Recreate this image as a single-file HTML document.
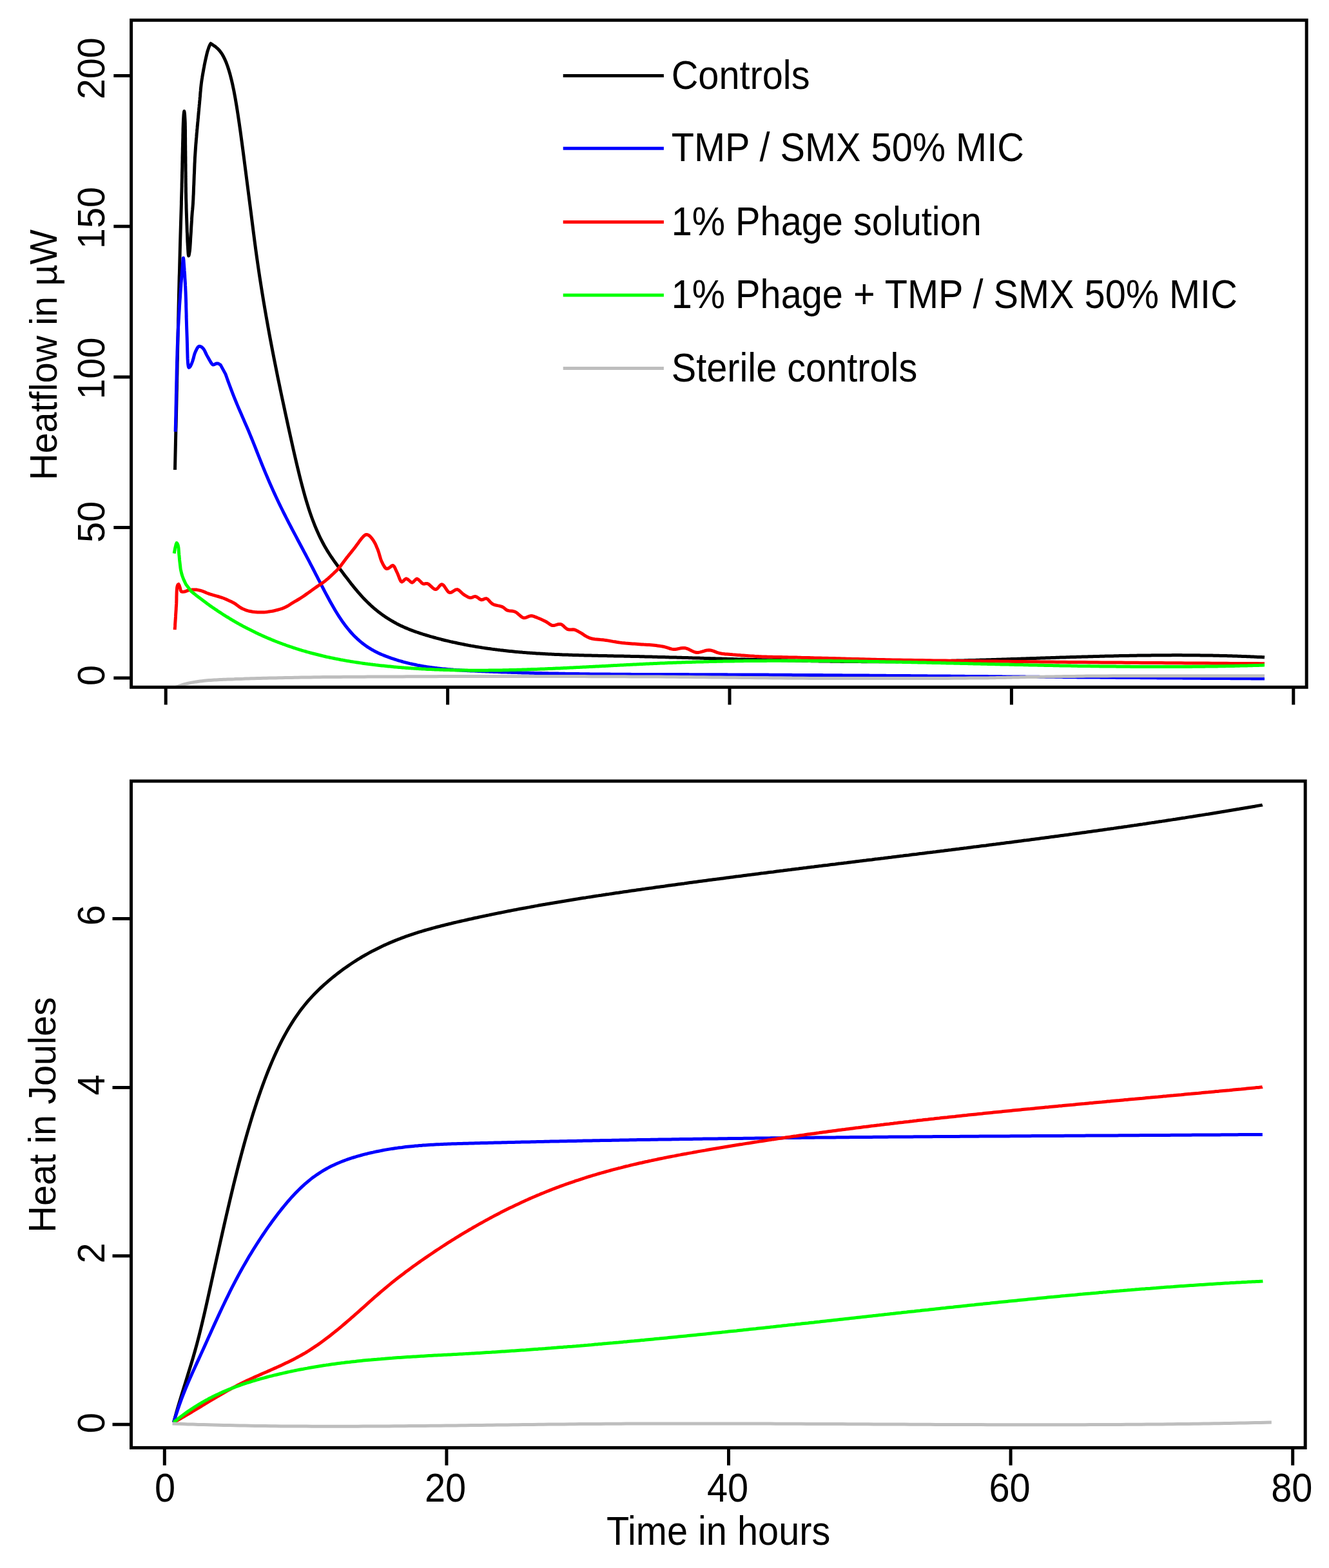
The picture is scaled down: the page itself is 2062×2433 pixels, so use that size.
<!DOCTYPE html><html><head><meta charset="utf-8"><style>html,body{margin:0;padding:0;background:#fff;}svg{display:block;}text{font-family:"Liberation Sans",Arial,Helvetica,sans-serif;font-size:57.70px;fill:#000;}</style></head><body>
<svg xmlns="http://www.w3.org/2000/svg" width="2062" height="2433" viewBox="0 0 2062 2433">
<rect width="2062" height="2433" fill="#fff"/>
<defs><clipPath id="c1"><rect x="206" y="33.8" width="1818.7" height="1030"/></clipPath></defs>
<g clip-path="url(#c1)">
<polyline points="271.5,729.0 271.6,724.5 271.7,720.0 271.8,715.5 271.9,711.0 272.0,706.5 272.1,702.1 272.2,697.6 272.3,693.2 272.4,688.7 272.5,684.3 272.6,679.8 272.7,675.4 272.8,670.9 272.9,666.4 273.1,661.9 273.2,657.3 273.3,652.8 273.4,648.2 273.5,643.6 273.6,639.0 273.7,634.3 273.8,629.6 273.9,624.8 274.0,620.0 274.1,614.5 274.2,608.9 274.4,603.2 274.5,597.4 274.6,591.6 274.7,585.7 274.9,579.7 275.0,573.8 275.1,567.7 275.2,561.7 275.4,555.7 275.5,549.6 275.6,543.6 275.7,537.6 275.9,531.5 276.0,525.6 276.1,519.6 276.2,513.8 276.4,507.9 276.5,502.2 276.6,496.5 276.8,490.9 276.9,485.4 277.0,480.0 277.1,475.5 277.2,471.0 277.3,466.6 277.4,462.2 277.5,457.9 277.6,453.6 277.7,449.3 277.8,445.0 277.9,440.8 278.0,436.6 278.1,432.4 278.2,428.3 278.4,424.1 278.5,420.0 278.6,415.9 278.7,411.9 278.8,407.8 278.9,403.8 279.0,399.8 279.1,395.8 279.2,391.9 279.3,387.9 279.4,383.9 279.5,380.0 279.6,376.5 279.7,373.0 279.8,369.6 279.9,366.2 280.0,362.8 280.1,359.4 280.2,356.0 280.3,352.7 280.4,349.3 280.5,346.0 280.6,342.7 280.7,339.4 280.8,336.2 280.9,332.9 281.0,329.6 281.1,326.3 281.2,323.1 281.3,319.8 281.4,316.5 281.4,313.2 281.5,309.9 281.6,306.6 281.7,303.3 281.8,300.0 281.9,296.6 282.0,293.2 282.1,289.8 282.1,286.3 282.2,282.8 282.3,279.2 282.4,275.7 282.4,272.1 282.5,268.6 282.6,265.0 282.7,261.5 282.8,258.0 282.8,254.5 282.9,251.0 283.0,247.6 283.0,244.3 283.1,240.9 283.2,237.7 283.3,234.5 283.3,231.4 283.4,228.4 283.5,225.5 283.5,222.7 283.6,220.0 283.7,216.5 283.8,213.1 283.8,209.8 283.9,206.6 284.0,203.5 284.0,200.5 284.1,197.6 284.2,194.8 284.3,192.2 284.4,189.6 284.5,187.3 284.6,185.0 284.8,181.7 285.0,178.3 285.3,175.4 285.6,173.3 285.8,172.5 286.0,173.3 286.3,175.3 286.6,178.2 286.8,181.6 287.0,185.0 287.1,187.0 287.2,189.2 287.3,191.6 287.3,194.1 287.4,196.7 287.4,199.4 287.5,202.2 287.5,205.1 287.5,208.1 287.5,211.2 287.6,214.3 287.6,217.4 287.6,220.6 287.6,223.7 287.7,226.9 287.7,230.0 287.7,232.6 287.8,235.3 287.8,238.1 287.8,240.9 287.9,243.8 287.9,246.7 287.9,249.6 287.9,252.6 288.0,255.6 288.0,258.7 288.0,261.7 288.0,264.8 288.1,267.8 288.1,270.9 288.1,273.9 288.2,277.0 288.2,280.0 288.2,283.0 288.3,285.9 288.3,288.8 288.4,291.7 288.4,294.5 288.4,297.3 288.5,300.0 288.6,303.2 288.6,306.3 288.7,309.4 288.8,312.5 288.9,315.6 289.0,318.6 289.0,321.6 289.1,324.6 289.2,327.6 289.3,330.5 289.4,333.3 289.5,336.2 289.6,339.0 289.7,341.8 289.8,344.6 289.9,347.3 290.0,350.0 290.1,353.2 290.2,356.4 290.3,359.6 290.5,362.8 290.6,366.0 290.7,369.0 290.8,372.0 290.9,374.9 291.1,377.7 291.2,380.3 291.4,382.7 291.5,385.0 291.7,388.2 291.9,391.4 292.1,394.2 292.4,396.2 292.7,397.0 293.2,395.9 293.7,393.2 294.2,390.0 294.5,387.9 294.7,385.5 294.9,382.9 295.1,380.1 295.3,377.2 295.5,374.1 295.6,371.1 295.8,368.0 296.0,365.0 296.2,362.2 296.4,359.3 296.5,356.3 296.7,353.3 296.9,350.2 297.1,347.1 297.3,344.1 297.5,341.2 297.6,338.3 297.8,335.6 298.0,333.0 298.2,330.2 298.4,327.7 298.7,325.2 298.9,322.9 299.1,320.4 299.3,317.8 299.5,315.0 299.6,312.5 299.8,309.8 299.9,307.1 300.0,304.2 300.2,301.3 300.3,298.3 300.4,295.3 300.5,292.2 300.6,289.1 300.8,286.0 300.9,283.0 301.0,280.0 301.1,277.2 301.2,274.3 301.3,271.4 301.5,268.5 301.6,265.5 301.7,262.6 301.8,259.7 301.9,256.8 302.0,253.9 302.2,251.0 302.3,248.1 302.4,245.3 302.6,242.5 302.8,239.5 303.0,236.4 303.2,233.4 303.4,230.5 303.6,227.5 303.8,224.6 304.1,221.6 304.3,218.7 304.5,215.8 304.8,212.9 305.0,210.0 305.2,207.2 305.5,204.4 305.7,201.7 306.0,198.9 306.2,196.1 306.5,193.4 306.7,190.7 307.0,188.0 307.2,185.3 307.5,182.6 307.7,180.0 308.0,177.1 308.2,174.3 308.5,171.5 308.7,168.7 309.0,166.0 309.2,163.2 309.5,160.5 309.7,157.8 310.0,155.0 310.2,152.2 310.5,149.4 310.7,146.6 310.9,143.7 311.2,140.9 311.4,138.1 311.7,135.4 312.0,132.7 312.3,130.0 312.7,127.0 313.1,124.1 313.6,121.2 314.0,118.4 314.5,115.5 315.0,112.8 315.5,110.0 316.0,107.0 316.6,104.0 317.1,101.1 317.7,98.2 318.3,95.3 318.9,92.5 319.6,89.4 320.3,86.4 321.0,83.4 321.7,80.6 322.5,78.0 323.5,75.0 324.5,72.2 325.5,70.0 326.3,68.6 327.0,67.5 329.0,68.8 331.0,70.2 333.0,71.6 335.0,73.1 337.0,74.8 339.0,76.8 341.0,79.0 343.0,81.7 345.0,84.7 347.0,88.3 349.0,92.4 351.0,97.1 353.0,102.5 355.0,108.6 357.0,115.5 359.0,123.3 361.0,131.9 363.0,141.6 365.0,152.3 367.0,164.0 369.0,176.6 371.0,190.1 373.0,204.2 375.0,218.8 377.0,233.9 379.0,249.2 381.0,264.8 383.0,280.3 385.0,295.8 387.0,311.2 389.0,326.8 391.0,342.6 393.0,358.4 395.0,373.9 397.0,388.8 399.0,403.2 401.0,417.0 403.0,430.3 405.0,443.2 407.0,455.6 409.0,467.8 411.0,479.6 413.0,491.1 415.0,502.3 417.0,513.4 419.0,524.2 421.0,534.8 423.0,545.3 425.0,555.5 427.0,565.6 429.0,575.6 431.0,585.4 433.0,595.1 435.0,604.7 437.0,614.2 439.0,623.6 441.0,632.9 443.0,642.2 445.0,651.4 447.0,660.6 449.0,669.8 451.0,678.8 453.0,687.8 455.0,696.7 457.0,705.5 459.0,714.1 461.0,722.6 463.0,730.9 465.0,739.1 467.0,747.0 469.0,754.7 471.0,762.1 473.0,769.3 475.0,776.2 477.0,782.8 479.0,789.2 481.0,795.2 483.0,801.0 485.0,806.5 487.0,811.7 489.0,816.8 491.0,821.5 493.0,826.1 495.0,830.5 497.0,834.7 499.0,838.7 501.0,842.5 503.0,846.2 505.0,849.7 507.0,853.1 509.0,856.3 511.0,859.5 513.0,862.6 515.0,865.5 517.0,868.4 519.0,871.3 521.0,874.0 523.0,876.8 525.0,879.5 527.0,882.2 529.0,884.9 531.0,887.5 533.0,890.2 535.0,892.9 537.0,895.5 539.0,898.1 541.0,900.7 543.0,903.3 545.0,905.9 547.0,908.4 549.0,910.9 551.0,913.3 553.0,915.7 555.0,918.1 557.0,920.4 559.0,922.7 561.0,924.9 563.0,927.1 565.0,929.2 567.0,931.3 569.0,933.3 571.0,935.2 573.0,937.1 575.0,939.0 577.0,940.8 579.0,942.6 581.0,944.3 583.0,946.0 585.0,947.6 587.0,949.2 589.0,950.7 591.0,952.3 593.0,953.7 595.0,955.1 597.0,956.5 599.0,957.9 601.0,959.2 603.0,960.4 605.0,961.7 607.0,962.9 609.0,964.0 611.0,965.2 613.0,966.3 615.0,967.4 617.0,968.4 619.0,969.4 621.0,970.4 623.0,971.4 625.0,972.3 627.0,973.2 629.0,974.1 631.0,974.9 633.0,975.8 635.0,976.6 637.0,977.4 639.0,978.1 641.0,978.9 643.0,979.6 645.0,980.3 647.0,981.0 649.0,981.7 651.0,982.4 653.0,983.0 655.0,983.7 657.0,984.3 659.0,984.9 661.0,985.5 663.0,986.1 665.0,986.7 667.0,987.3 669.0,987.9 671.0,988.4 673.0,989.0 675.0,989.5 677.0,990.1 679.0,990.6 681.0,991.1 683.0,991.6 685.0,992.2 687.0,992.7 689.0,993.2 691.0,993.7 693.0,994.1 695.0,994.6 697.0,995.1 699.0,995.6 701.0,996.0 703.0,996.5 705.0,996.9 707.0,997.3 709.0,997.8 711.0,998.2 713.0,998.6 715.0,999.0 717.0,999.4 719.0,999.8 721.0,1000.2 723.0,1000.6 725.0,1001.0 727.0,1001.4 729.0,1001.7 731.0,1002.1 733.0,1002.4 735.0,1002.8 737.0,1003.1 739.0,1003.5 741.0,1003.8 743.0,1004.1 745.0,1004.4 747.0,1004.8 749.0,1005.1 751.0,1005.4 753.0,1005.7 755.0,1006.0 757.0,1006.3 759.0,1006.5 761.0,1006.8 763.0,1007.1 765.0,1007.4 767.0,1007.6 769.0,1007.9 771.0,1008.1 773.0,1008.4 775.0,1008.6 777.0,1008.9 779.0,1009.1 781.0,1009.3 783.0,1009.6 785.0,1009.8 787.0,1010.0 789.0,1010.2 791.0,1010.4 793.0,1010.6 795.0,1010.8 797.0,1011.0 799.0,1011.2 801.0,1011.4 803.0,1011.6 805.0,1011.7 807.0,1011.9 809.0,1012.1 811.0,1012.3 813.0,1012.4 815.0,1012.6 817.0,1012.7 819.0,1012.9 821.0,1013.0 823.0,1013.2 825.0,1013.3 827.0,1013.5 829.0,1013.6 831.0,1013.7 833.0,1013.9 835.0,1014.0 837.0,1014.1 839.0,1014.2 841.0,1014.3 843.0,1014.5 845.0,1014.6 847.0,1014.7 849.0,1014.8 851.0,1014.9 853.0,1015.0 855.0,1015.1 857.0,1015.2 859.0,1015.3 861.0,1015.4 863.0,1015.5 865.0,1015.5 867.0,1015.6 869.0,1015.7 871.0,1015.8 873.0,1015.9 875.0,1015.9 877.0,1016.0 879.0,1016.1 881.0,1016.1 883.0,1016.2 885.0,1016.3 887.0,1016.3 889.0,1016.4 891.0,1016.5 893.0,1016.5 895.0,1016.6 897.0,1016.6 899.0,1016.7 901.0,1016.7 903.0,1016.8 905.0,1016.8 907.0,1016.9 909.0,1016.9 911.0,1017.0 913.0,1017.0 915.0,1017.1 917.0,1017.1 919.0,1017.2 921.0,1017.2 923.0,1017.3 925.0,1017.3 927.0,1017.3 929.0,1017.4 931.0,1017.4 933.0,1017.5 935.0,1017.5 937.0,1017.5 939.0,1017.6 941.0,1017.6 943.0,1017.7 945.0,1017.7 947.0,1017.7 949.0,1017.8 951.0,1017.8 953.0,1017.9 955.0,1017.9 957.0,1017.9 959.0,1018.0 961.0,1018.0 963.0,1018.0 965.0,1018.1 967.0,1018.1 969.0,1018.2 971.0,1018.2 973.0,1018.3 975.0,1018.3 977.0,1018.3 979.0,1018.4 981.0,1018.4 983.0,1018.5 985.0,1018.5 987.0,1018.6 989.0,1018.6 991.0,1018.6 993.0,1018.7 995.0,1018.7 997.0,1018.8 999.0,1018.8 1001.0,1018.9 1003.0,1018.9 1005.0,1019.0 1007.0,1019.0 1009.0,1019.1 1011.0,1019.1 1013.0,1019.2 1015.0,1019.2 1017.0,1019.3 1019.0,1019.3 1021.0,1019.4 1023.0,1019.4 1025.0,1019.5 1027.0,1019.5 1029.0,1019.6 1031.0,1019.6 1033.0,1019.7 1035.0,1019.7 1037.0,1019.8 1039.0,1019.9 1041.0,1019.9 1043.0,1020.0 1045.0,1020.0 1047.0,1020.1 1049.0,1020.1 1051.0,1020.2 1053.0,1020.2 1055.0,1020.3 1057.0,1020.3 1059.0,1020.4 1061.0,1020.5 1063.0,1020.5 1065.0,1020.6 1067.0,1020.6 1069.0,1020.7 1071.0,1020.7 1073.0,1020.8 1075.0,1020.9 1077.0,1020.9 1079.0,1021.0 1081.0,1021.0 1083.0,1021.1 1085.0,1021.1 1087.0,1021.2 1089.0,1021.3 1091.0,1021.3 1093.0,1021.4 1095.0,1021.4 1097.0,1021.5 1099.0,1021.5 1101.0,1021.6 1103.0,1021.7 1105.0,1021.7 1107.0,1021.8 1109.0,1021.8 1111.0,1021.9 1113.0,1021.9 1115.0,1022.0 1117.0,1022.1 1119.0,1022.1 1121.0,1022.2 1123.0,1022.2 1125.0,1022.3 1127.0,1022.3 1129.0,1022.4 1131.0,1022.5 1133.0,1022.5 1135.0,1022.6 1137.0,1022.6 1139.0,1022.7 1141.0,1022.7 1143.0,1022.8 1145.0,1022.9 1147.0,1022.9 1149.0,1023.0 1151.0,1023.0 1153.0,1023.1 1155.0,1023.1 1157.0,1023.2 1159.0,1023.3 1161.0,1023.3 1163.0,1023.4 1165.0,1023.4 1167.0,1023.5 1169.0,1023.5 1171.0,1023.6 1173.0,1023.6 1175.0,1023.7 1177.0,1023.7 1179.0,1023.8 1181.0,1023.8 1183.0,1023.9 1185.0,1024.0 1187.0,1024.0 1189.0,1024.1 1191.0,1024.1 1193.0,1024.2 1195.0,1024.2 1197.0,1024.3 1199.0,1024.3 1201.0,1024.4 1203.0,1024.4 1205.0,1024.5 1207.0,1024.5 1209.0,1024.6 1211.0,1024.6 1213.0,1024.7 1215.0,1024.7 1217.0,1024.8 1219.0,1024.8 1221.0,1024.8 1223.0,1024.9 1225.0,1024.9 1227.0,1025.0 1229.0,1025.0 1231.0,1025.1 1233.0,1025.1 1235.0,1025.2 1237.0,1025.2 1239.0,1025.2 1241.0,1025.3 1243.0,1025.3 1245.0,1025.4 1247.0,1025.4 1249.0,1025.5 1251.0,1025.5 1253.0,1025.5 1255.0,1025.6 1257.0,1025.6 1259.0,1025.7 1261.0,1025.7 1263.0,1025.7 1265.0,1025.8 1267.0,1025.8 1269.0,1025.8 1271.0,1025.9 1273.0,1025.9 1275.0,1025.9 1277.0,1026.0 1279.0,1026.0 1281.0,1026.0 1283.0,1026.1 1285.0,1026.1 1287.0,1026.1 1289.0,1026.2 1291.0,1026.2 1293.0,1026.2 1295.0,1026.2 1297.0,1026.3 1299.0,1026.3 1301.0,1026.3 1303.0,1026.3 1305.0,1026.4 1307.0,1026.4 1309.0,1026.4 1311.0,1026.4 1313.0,1026.5 1315.0,1026.5 1317.0,1026.5 1319.0,1026.5 1321.0,1026.5 1323.0,1026.6 1325.0,1026.6 1327.0,1026.6 1329.0,1026.6 1331.0,1026.6 1333.0,1026.6 1335.0,1026.6 1337.0,1026.7 1339.0,1026.7 1341.0,1026.7 1343.0,1026.7 1345.0,1026.7 1347.0,1026.7 1349.0,1026.7 1351.0,1026.7 1353.0,1026.7 1355.0,1026.7 1357.0,1026.7 1359.0,1026.7 1361.0,1026.7 1363.0,1026.7 1365.0,1026.7 1367.0,1026.7 1369.0,1026.7 1371.0,1026.7 1373.0,1026.7 1375.0,1026.7 1377.0,1026.7 1379.0,1026.7 1381.0,1026.7 1383.0,1026.7 1385.0,1026.7 1387.0,1026.7 1389.0,1026.7 1391.0,1026.7 1393.0,1026.7 1395.0,1026.6 1397.0,1026.6 1399.0,1026.6 1401.0,1026.6 1403.0,1026.6 1405.0,1026.6 1407.0,1026.5 1409.0,1026.5 1411.0,1026.5 1413.0,1026.5 1415.0,1026.5 1417.0,1026.4 1419.0,1026.4 1421.0,1026.4 1423.0,1026.4 1425.0,1026.3 1427.0,1026.3 1429.0,1026.3 1431.0,1026.2 1433.0,1026.2 1435.0,1026.2 1437.0,1026.1 1439.0,1026.1 1441.0,1026.1 1443.0,1026.0 1445.0,1026.0 1447.0,1026.0 1449.0,1025.9 1451.0,1025.9 1453.0,1025.8 1455.0,1025.8 1457.0,1025.8 1459.0,1025.7 1461.0,1025.7 1463.0,1025.6 1465.0,1025.6 1467.0,1025.5 1469.0,1025.5 1471.0,1025.5 1473.0,1025.4 1475.0,1025.4 1477.0,1025.3 1479.0,1025.3 1481.0,1025.2 1483.0,1025.2 1485.0,1025.1 1487.0,1025.1 1489.0,1025.0 1491.0,1025.0 1493.0,1024.9 1495.0,1024.9 1497.0,1024.8 1499.0,1024.8 1501.0,1024.7 1503.0,1024.6 1505.0,1024.6 1507.0,1024.5 1509.0,1024.5 1511.0,1024.4 1513.0,1024.4 1515.0,1024.3 1517.0,1024.3 1519.0,1024.2 1521.0,1024.1 1523.0,1024.1 1525.0,1024.0 1527.0,1024.0 1529.0,1023.9 1531.0,1023.8 1533.0,1023.8 1535.0,1023.7 1537.0,1023.7 1539.0,1023.6 1541.0,1023.5 1543.0,1023.5 1545.0,1023.4 1547.0,1023.3 1549.0,1023.3 1551.0,1023.2 1553.0,1023.2 1555.0,1023.1 1557.0,1023.0 1559.0,1023.0 1561.0,1022.9 1563.0,1022.8 1565.0,1022.8 1567.0,1022.7 1569.0,1022.6 1571.0,1022.6 1573.0,1022.5 1575.0,1022.4 1577.0,1022.4 1579.0,1022.3 1581.0,1022.2 1583.0,1022.2 1585.0,1022.1 1587.0,1022.0 1589.0,1022.0 1591.0,1021.9 1593.0,1021.8 1595.0,1021.8 1597.0,1021.7 1599.0,1021.6 1601.0,1021.6 1603.0,1021.5 1605.0,1021.4 1607.0,1021.4 1609.0,1021.3 1611.0,1021.2 1613.0,1021.2 1615.0,1021.1 1617.0,1021.0 1619.0,1021.0 1621.0,1020.9 1623.0,1020.8 1625.0,1020.8 1627.0,1020.7 1629.0,1020.7 1631.0,1020.6 1633.0,1020.5 1635.0,1020.5 1637.0,1020.4 1639.0,1020.3 1641.0,1020.3 1643.0,1020.2 1645.0,1020.1 1647.0,1020.1 1649.0,1020.0 1651.0,1019.9 1653.0,1019.9 1655.0,1019.8 1657.0,1019.8 1659.0,1019.7 1661.0,1019.6 1663.0,1019.6 1665.0,1019.5 1667.0,1019.5 1669.0,1019.4 1671.0,1019.3 1673.0,1019.3 1675.0,1019.2 1677.0,1019.2 1679.0,1019.1 1681.0,1019.0 1683.0,1019.0 1685.0,1018.9 1687.0,1018.9 1689.0,1018.8 1691.0,1018.8 1693.0,1018.7 1695.0,1018.7 1697.0,1018.6 1699.0,1018.5 1701.0,1018.5 1703.0,1018.4 1705.0,1018.4 1707.0,1018.3 1709.0,1018.3 1711.0,1018.2 1713.0,1018.2 1715.0,1018.1 1717.0,1018.1 1719.0,1018.0 1721.0,1018.0 1723.0,1017.9 1725.0,1017.9 1727.0,1017.9 1729.0,1017.8 1731.0,1017.8 1733.0,1017.7 1735.0,1017.7 1737.0,1017.6 1739.0,1017.6 1741.0,1017.6 1743.0,1017.5 1745.0,1017.5 1747.0,1017.4 1749.0,1017.4 1751.0,1017.4 1753.0,1017.3 1755.0,1017.3 1757.0,1017.3 1759.0,1017.2 1761.0,1017.2 1763.0,1017.2 1765.0,1017.1 1767.0,1017.1 1769.0,1017.1 1771.0,1017.0 1773.0,1017.0 1775.0,1017.0 1777.0,1017.0 1779.0,1016.9 1781.0,1016.9 1783.0,1016.9 1785.0,1016.9 1787.0,1016.8 1789.0,1016.8 1791.0,1016.8 1793.0,1016.8 1795.0,1016.8 1797.0,1016.8 1799.0,1016.7 1801.0,1016.7 1803.0,1016.7 1805.0,1016.7 1807.0,1016.7 1809.0,1016.7 1811.0,1016.7 1813.0,1016.7 1815.0,1016.7 1817.0,1016.7 1819.0,1016.6 1821.0,1016.6 1823.0,1016.6 1825.0,1016.6 1827.0,1016.6 1829.0,1016.6 1831.0,1016.6 1833.0,1016.6 1835.0,1016.7 1837.0,1016.7 1839.0,1016.7 1841.0,1016.7 1843.0,1016.7 1845.0,1016.7 1847.0,1016.7 1849.0,1016.7 1851.0,1016.7 1853.0,1016.8 1855.0,1016.8 1857.0,1016.8 1859.0,1016.8 1861.0,1016.8 1863.0,1016.9 1865.0,1016.9 1867.0,1016.9 1869.0,1016.9 1871.0,1017.0 1873.0,1017.0 1875.0,1017.0 1877.0,1017.1 1879.0,1017.1 1881.0,1017.1 1883.0,1017.2 1885.0,1017.2 1887.0,1017.2 1889.0,1017.3 1891.0,1017.3 1893.0,1017.4 1895.0,1017.4 1897.0,1017.5 1899.0,1017.5 1901.0,1017.6 1903.0,1017.6 1905.0,1017.7 1907.0,1017.7 1909.0,1017.8 1911.0,1017.8 1913.0,1017.9 1915.0,1018.0 1917.0,1018.0 1919.0,1018.1 1921.0,1018.2 1923.0,1018.2 1925.0,1018.3 1927.0,1018.4 1929.0,1018.4 1931.0,1018.5 1933.0,1018.6 1935.0,1018.7 1937.0,1018.7 1939.0,1018.8 1941.0,1018.9 1943.0,1019.0 1945.0,1019.1 1947.0,1019.2 1949.0,1019.3 1951.0,1019.4 1953.0,1019.4 1955.0,1019.5 1957.0,1019.6 1959.0,1019.7 1961.0,1019.8 1962.0,1019.9" fill="none" stroke="#000000" stroke-width="5.0" stroke-linejoin="round" stroke-linecap="butt"/>
<polyline points="272.2,669.9 272.3,663.8 272.5,657.6 272.6,651.3 272.8,645.0 272.9,638.7 273.0,632.3 273.2,625.9 273.3,619.5 273.4,613.0 273.6,606.6 273.7,600.2 273.8,593.9 274.0,587.6 274.1,581.3 274.2,575.1 274.4,569.0 274.5,563.0 274.7,557.1 274.9,551.2 275.0,545.5 275.2,540.0 275.4,534.6 275.6,529.3 275.8,524.2 276.0,520.7 276.1,517.2 276.3,513.8 276.4,510.5 276.6,507.1 276.8,503.8 277.0,500.6 277.1,497.4 277.3,494.3 277.5,491.2 277.7,488.1 277.9,485.1 278.1,482.1 278.3,479.2 278.4,476.3 278.6,473.4 278.8,470.6 279.0,467.9 279.2,465.1 279.4,462.4 279.6,459.8 279.7,457.2 279.9,454.6 280.1,452.1 280.3,448.8 280.6,445.5 280.8,442.4 281.0,439.2 281.3,436.2 281.5,433.2 281.7,430.3 282.0,427.5 282.2,424.8 282.4,422.2 282.6,419.7 282.8,417.3 283.0,415.0 283.3,411.1 283.6,407.2 283.9,403.7 284.1,401.2 284.4,400.2 284.7,401.2 285.0,403.7 285.2,407.2 285.5,411.1 285.8,415.0 286.0,417.3 286.1,419.7 286.3,422.2 286.5,424.8 286.7,427.5 286.8,430.3 287.0,433.2 287.2,436.2 287.4,439.2 287.5,442.4 287.7,445.5 287.8,448.8 288.0,452.1 288.1,454.7 288.2,457.3 288.3,460.1 288.4,462.9 288.5,465.8 288.6,468.8 288.7,471.9 288.7,475.0 288.8,478.1 288.9,481.3 289.0,484.5 289.1,487.7 289.1,490.9 289.2,494.1 289.3,497.3 289.4,500.5 289.5,503.6 289.6,506.7 289.7,509.8 289.8,512.8 289.9,515.8 290.0,518.7 290.1,521.5 290.2,524.2 290.3,527.5 290.4,531.1 290.5,534.7 290.6,538.5 290.7,542.3 290.8,546.1 290.9,549.8 291.0,553.4 291.1,556.7 291.3,559.9 291.5,562.7 291.7,565.2 292.0,567.2 292.3,568.8 292.7,569.9 293.1,570.4 294.3,569.7 295.5,568.0 296.6,565.9 297.7,563.2 298.8,560.3 299.5,558.1 300.2,555.7 300.8,553.1 301.5,550.6 302.3,548.1 303.2,545.9 304.5,543.2 305.8,540.5 307.3,538.3 308.9,537.2 310.8,537.4 312.8,538.5 314.7,540.1 316.2,542.0 317.7,544.6 319.0,547.4 320.4,550.4 321.9,553.1 323.3,555.5 324.8,558.2 326.3,560.9 327.8,563.3 329.2,565.2 330.6,566.1 332.6,565.6 334.5,564.5 336.1,564.0 337.8,563.9 339.9,564.8 342.1,566.1 349.9,580.4 351.9,586.0 353.9,591.6 355.9,597.0 357.9,602.4 359.9,607.7 361.9,612.8 363.9,617.9 365.9,622.8 367.9,627.6 369.9,632.4 371.9,637.0 373.9,641.6 375.9,646.2 377.9,650.8 379.9,655.4 381.9,660.0 383.9,664.6 385.9,669.3 387.9,674.1 389.9,679.0 391.9,683.9 393.9,688.9 395.9,693.9 397.9,699.0 399.9,704.1 401.9,709.1 403.9,714.2 405.9,719.2 407.9,724.1 409.9,729.0 411.9,733.9 413.9,738.6 415.9,743.3 417.9,748.0 419.9,752.6 421.9,757.1 423.9,761.5 425.9,765.9 427.9,770.2 429.9,774.5 431.9,778.7 433.9,782.8 435.9,787.0 437.9,791.0 439.9,795.1 441.9,799.0 443.9,803.0 445.9,806.9 447.9,810.8 449.9,814.7 451.9,818.5 453.9,822.3 455.9,826.2 457.9,829.9 459.9,833.7 461.9,837.5 463.9,841.2 465.9,845.0 467.9,848.7 469.9,852.5 471.9,856.3 473.9,860.0 475.9,863.8 477.9,867.6 479.9,871.4 481.9,875.3 483.9,879.1 485.9,883.0 487.9,886.9 489.9,890.8 491.9,894.7 493.9,898.6 495.9,902.4 497.9,906.3 499.9,910.2 501.9,914.0 503.9,917.8 505.9,921.6 507.9,925.3 509.9,929.0 511.9,932.7 513.9,936.3 515.9,939.8 517.9,943.3 519.9,946.7 521.9,950.0 523.9,953.2 525.9,956.4 527.9,959.4 529.9,962.4 531.9,965.3 533.9,968.0 535.9,970.7 537.9,973.3 539.9,975.8 541.9,978.2 543.9,980.5 545.9,982.7 547.9,984.9 549.9,986.9 551.9,988.9 553.9,990.8 555.9,992.6 557.9,994.4 559.9,996.1 561.9,997.7 563.9,999.3 565.9,1000.7 567.9,1002.2 569.9,1003.6 571.9,1004.9 573.9,1006.1 575.9,1007.4 577.9,1008.5 579.9,1009.6 581.9,1010.7 583.9,1011.7 585.9,1012.7 587.9,1013.7 589.9,1014.6 591.9,1015.5 593.9,1016.3 595.9,1017.1 597.9,1017.9 599.9,1018.7 601.9,1019.4 603.9,1020.2 605.9,1020.9 607.9,1021.6 609.9,1022.2 611.9,1022.9 613.9,1023.5 615.9,1024.2 617.9,1024.8 619.9,1025.4 621.9,1025.9 623.9,1026.5 625.9,1027.1 627.9,1027.6 629.9,1028.1 631.9,1028.6 633.9,1029.1 635.9,1029.6 637.9,1030.0 639.9,1030.5 641.9,1030.9 643.9,1031.3 645.9,1031.8 647.9,1032.2 649.9,1032.5 651.9,1032.9 653.9,1033.3 655.9,1033.6 657.9,1034.0 659.9,1034.3 661.9,1034.6 663.9,1034.9 665.9,1035.2 667.9,1035.5 669.9,1035.8 671.9,1036.1 673.9,1036.3 675.9,1036.6 677.9,1036.8 679.9,1037.1 681.9,1037.3 683.9,1037.5 685.9,1037.7 687.9,1037.9 689.9,1038.1 691.9,1038.3 693.9,1038.5 695.9,1038.7 697.9,1038.8 699.9,1039.0 701.9,1039.1 703.9,1039.3 705.9,1039.4 707.9,1039.6 709.9,1039.7 711.9,1039.8 713.9,1040.0 715.9,1040.1 717.9,1040.2 719.9,1040.3 721.9,1040.4 723.9,1040.5 725.9,1040.7 727.9,1040.8 729.9,1040.9 731.9,1041.0 733.9,1041.0 735.9,1041.1 737.9,1041.2 739.9,1041.3 741.9,1041.4 743.9,1041.5 745.9,1041.6 747.9,1041.7 749.9,1041.8 751.9,1041.8 753.9,1041.9 755.9,1042.0 757.9,1042.1 759.9,1042.2 761.9,1042.3 763.9,1042.3 765.9,1042.4 767.9,1042.5 769.9,1042.6 771.9,1042.6 773.9,1042.7 775.9,1042.8 777.9,1042.9 779.9,1042.9 781.9,1043.0 783.9,1043.1 785.9,1043.1 787.9,1043.2 789.9,1043.3 791.9,1043.3 793.9,1043.4 795.9,1043.5 797.9,1043.5 799.9,1043.6 801.9,1043.6 803.9,1043.7 805.9,1043.8 807.9,1043.8 809.9,1043.9 811.9,1043.9 813.9,1044.0 815.9,1044.0 817.9,1044.1 819.9,1044.1 821.9,1044.2 823.9,1044.2 825.9,1044.3 827.9,1044.3 829.9,1044.4 831.9,1044.4 833.9,1044.5 835.9,1044.5 837.9,1044.6 839.9,1044.6 841.9,1044.7 843.9,1044.7 845.9,1044.8 847.9,1044.8 849.9,1044.8 851.9,1044.9 853.9,1044.9 855.9,1045.0 857.9,1045.0 859.9,1045.0 861.9,1045.1 863.9,1045.1 865.9,1045.1 867.9,1045.2 869.9,1045.2 871.9,1045.3 873.9,1045.3 875.9,1045.3 877.9,1045.4 879.9,1045.4 881.9,1045.4 883.9,1045.4 885.9,1045.5 887.9,1045.5 889.9,1045.5 891.9,1045.6 893.9,1045.6 895.9,1045.6 897.9,1045.6 899.9,1045.7 901.9,1045.7 903.9,1045.7 905.9,1045.7 907.9,1045.8 909.9,1045.8 911.9,1045.8 913.9,1045.8 915.9,1045.9 917.9,1045.9 919.9,1045.9 921.9,1045.9 923.9,1045.9 925.9,1046.0 927.9,1046.0 929.9,1046.0 931.9,1046.0 933.9,1046.0 935.9,1046.1 937.9,1046.1 939.9,1046.1 941.9,1046.1 943.9,1046.1 945.9,1046.1 947.9,1046.2 949.9,1046.2 951.9,1046.2 953.9,1046.2 955.9,1046.2 957.9,1046.2 959.9,1046.2 961.9,1046.2 963.9,1046.3 965.9,1046.3 967.9,1046.3 969.9,1046.3 971.9,1046.3 973.9,1046.3 975.9,1046.3 977.9,1046.3 979.9,1046.4 981.9,1046.4 983.9,1046.4 985.9,1046.4 987.9,1046.4 989.9,1046.4 991.9,1046.4 993.9,1046.4 995.9,1046.4 997.9,1046.4 999.9,1046.4 1001.9,1046.4 1003.9,1046.5 1005.9,1046.5 1007.9,1046.5 1009.9,1046.5 1011.9,1046.5 1013.9,1046.5 1015.9,1046.5 1017.9,1046.5 1019.9,1046.5 1021.9,1046.5 1023.9,1046.5 1025.9,1046.5 1027.9,1046.5 1029.9,1046.5 1031.9,1046.5 1033.9,1046.6 1035.9,1046.6 1037.9,1046.6 1039.9,1046.6 1041.9,1046.6 1043.9,1046.6 1045.9,1046.6 1047.9,1046.6 1049.9,1046.6 1051.9,1046.6 1053.9,1046.6 1055.9,1046.6 1057.9,1046.6 1059.9,1046.6 1061.9,1046.6 1063.9,1046.6 1065.9,1046.6 1067.9,1046.6 1069.9,1046.7 1071.9,1046.7 1073.9,1046.7 1075.9,1046.7 1077.9,1046.7 1079.9,1046.7 1081.9,1046.7 1083.9,1046.7 1085.9,1046.7 1087.9,1046.7 1089.9,1046.7 1091.9,1046.7 1093.9,1046.7 1095.9,1046.7 1097.9,1046.7 1099.9,1046.7 1101.9,1046.7 1103.9,1046.8 1105.9,1046.8 1107.9,1046.8 1109.9,1046.8 1111.9,1046.8 1113.9,1046.8 1115.9,1046.8 1117.9,1046.8 1119.9,1046.8 1121.9,1046.8 1123.9,1046.8 1125.9,1046.8 1127.9,1046.8 1129.9,1046.9 1131.9,1046.9 1133.9,1046.9 1135.9,1046.9 1137.9,1046.9 1139.9,1046.9 1141.9,1046.9 1143.9,1046.9 1145.9,1046.9 1147.9,1046.9 1149.9,1046.9 1151.9,1046.9 1153.9,1047.0 1155.9,1047.0 1157.9,1047.0 1159.9,1047.0 1161.9,1047.0 1163.9,1047.0 1165.9,1047.0 1167.9,1047.0 1169.9,1047.0 1171.9,1047.0 1173.9,1047.1 1175.9,1047.1 1177.9,1047.1 1179.9,1047.1 1181.9,1047.1 1183.9,1047.1 1185.9,1047.1 1187.9,1047.1 1189.9,1047.1 1191.9,1047.1 1193.9,1047.2 1195.9,1047.2 1197.9,1047.2 1199.9,1047.2 1201.9,1047.2 1203.9,1047.2 1205.9,1047.2 1207.9,1047.2 1209.9,1047.2 1211.9,1047.2 1213.9,1047.3 1215.9,1047.3 1217.9,1047.3 1219.9,1047.3 1221.9,1047.3 1223.9,1047.3 1225.9,1047.3 1227.9,1047.3 1229.9,1047.4 1231.9,1047.4 1233.9,1047.4 1235.9,1047.4 1237.9,1047.4 1239.9,1047.4 1241.9,1047.4 1243.9,1047.4 1245.9,1047.4 1247.9,1047.5 1249.9,1047.5 1251.9,1047.5 1253.9,1047.5 1255.9,1047.5 1257.9,1047.5 1259.9,1047.5 1261.9,1047.5 1263.9,1047.6 1265.9,1047.6 1267.9,1047.6 1269.9,1047.6 1271.9,1047.6 1273.9,1047.6 1275.9,1047.6 1277.9,1047.7 1279.9,1047.7 1281.9,1047.7 1283.9,1047.7 1285.9,1047.7 1287.9,1047.7 1289.9,1047.7 1291.9,1047.7 1293.9,1047.8 1295.9,1047.8 1297.9,1047.8 1299.9,1047.8 1301.9,1047.8 1303.9,1047.8 1305.9,1047.8 1307.9,1047.9 1309.9,1047.9 1311.9,1047.9 1313.9,1047.9 1315.9,1047.9 1317.9,1047.9 1319.9,1047.9 1321.9,1048.0 1323.9,1048.0 1325.9,1048.0 1327.9,1048.0 1329.9,1048.0 1331.9,1048.0 1333.9,1048.0 1335.9,1048.1 1337.9,1048.1 1339.9,1048.1 1341.9,1048.1 1343.9,1048.1 1345.9,1048.1 1347.9,1048.1 1349.9,1048.2 1351.9,1048.2 1353.9,1048.2 1355.9,1048.2 1357.9,1048.2 1359.9,1048.2 1361.9,1048.2 1363.9,1048.3 1365.9,1048.3 1367.9,1048.3 1369.9,1048.3 1371.9,1048.3 1373.9,1048.3 1375.9,1048.4 1377.9,1048.4 1379.9,1048.4 1381.9,1048.4 1383.9,1048.4 1385.9,1048.4 1387.9,1048.4 1389.9,1048.5 1391.9,1048.5 1393.9,1048.5 1395.9,1048.5 1397.9,1048.5 1399.9,1048.5 1401.9,1048.6 1403.9,1048.6 1405.9,1048.6 1407.9,1048.6 1409.9,1048.6 1411.9,1048.6 1413.9,1048.7 1415.9,1048.7 1417.9,1048.7 1419.9,1048.7 1421.9,1048.7 1423.9,1048.7 1425.9,1048.8 1427.9,1048.8 1429.9,1048.8 1431.9,1048.8 1433.9,1048.8 1435.9,1048.8 1437.9,1048.8 1439.9,1048.9 1441.9,1048.9 1443.9,1048.9 1445.9,1048.9 1447.9,1048.9 1449.9,1048.9 1451.9,1049.0 1453.9,1049.0 1455.9,1049.0 1457.9,1049.0 1459.9,1049.0 1461.9,1049.0 1463.9,1049.1 1465.9,1049.1 1467.9,1049.1 1469.9,1049.1 1471.9,1049.1 1473.9,1049.1 1475.9,1049.2 1477.9,1049.2 1479.9,1049.2 1481.9,1049.2 1483.9,1049.2 1485.9,1049.2 1487.9,1049.3 1489.9,1049.3 1491.9,1049.3 1493.9,1049.3 1495.9,1049.3 1497.9,1049.4 1499.9,1049.4 1501.9,1049.4 1503.9,1049.4 1505.9,1049.4 1507.9,1049.4 1509.9,1049.5 1511.9,1049.5 1513.9,1049.5 1515.9,1049.5 1517.9,1049.5 1519.9,1049.5 1521.9,1049.6 1523.9,1049.6 1525.9,1049.6 1527.9,1049.6 1529.9,1049.6 1531.9,1049.6 1533.9,1049.7 1535.9,1049.7 1537.9,1049.7 1539.9,1049.7 1541.9,1049.7 1543.9,1049.7 1545.9,1049.8 1547.9,1049.8 1549.9,1049.8 1551.9,1049.8 1553.9,1049.8 1555.9,1049.9 1557.9,1049.9 1559.9,1049.9 1561.9,1049.9 1563.9,1049.9 1565.9,1049.9 1567.9,1050.0 1569.9,1050.0 1571.9,1050.0 1573.9,1050.0 1575.9,1050.0 1577.9,1050.0 1579.9,1050.1 1581.9,1050.1 1583.9,1050.1 1585.9,1050.1 1587.9,1050.1 1589.9,1050.1 1591.9,1050.2 1593.9,1050.2 1595.9,1050.2 1597.9,1050.2 1599.9,1050.2 1601.9,1050.2 1603.9,1050.3 1605.9,1050.3 1607.9,1050.3 1609.9,1050.3 1611.9,1050.3 1613.9,1050.4 1615.9,1050.4 1617.9,1050.4 1619.9,1050.4 1621.9,1050.4 1623.9,1050.4 1625.9,1050.5 1627.9,1050.5 1629.9,1050.5 1631.9,1050.5 1633.9,1050.5 1635.9,1050.5 1637.9,1050.6 1639.9,1050.6 1641.9,1050.6 1643.9,1050.6 1645.9,1050.6 1647.9,1050.6 1649.9,1050.7 1651.9,1050.7 1653.9,1050.7 1655.9,1050.7 1657.9,1050.7 1659.9,1050.7 1661.9,1050.8 1663.9,1050.8 1665.9,1050.8 1667.9,1050.8 1669.9,1050.8 1671.9,1050.9 1673.9,1050.9 1675.9,1050.9 1677.9,1050.9 1679.9,1050.9 1681.9,1050.9 1683.9,1051.0 1685.9,1051.0 1687.9,1051.0 1689.9,1051.0 1691.9,1051.0 1693.9,1051.0 1695.9,1051.1 1697.9,1051.1 1699.9,1051.1 1701.9,1051.1 1703.9,1051.1 1705.9,1051.1 1707.9,1051.2 1709.9,1051.2 1711.9,1051.2 1713.9,1051.2 1715.9,1051.2 1717.9,1051.2 1719.9,1051.3 1721.9,1051.3 1723.9,1051.3 1725.9,1051.3 1727.9,1051.3 1729.9,1051.3 1731.9,1051.4 1733.9,1051.4 1735.9,1051.4 1737.9,1051.4 1739.9,1051.4 1741.9,1051.4 1743.9,1051.5 1745.9,1051.5 1747.9,1051.5 1749.9,1051.5 1751.9,1051.5 1753.9,1051.5 1755.9,1051.5 1757.9,1051.6 1759.9,1051.6 1761.9,1051.6 1763.9,1051.6 1765.9,1051.6 1767.9,1051.6 1769.9,1051.7 1771.9,1051.7 1773.9,1051.7 1775.9,1051.7 1777.9,1051.7 1779.9,1051.7 1781.9,1051.8 1783.9,1051.8 1785.9,1051.8 1787.9,1051.8 1789.9,1051.8 1791.9,1051.8 1793.9,1051.8 1795.9,1051.9 1797.9,1051.9 1799.9,1051.9 1801.9,1051.9 1803.9,1051.9 1805.9,1051.9 1807.9,1052.0 1809.9,1052.0 1811.9,1052.0 1813.9,1052.0 1815.9,1052.0 1817.9,1052.0 1819.9,1052.0 1821.9,1052.1 1823.9,1052.1 1825.9,1052.1 1827.9,1052.1 1829.9,1052.1 1831.9,1052.1 1833.9,1052.1 1835.9,1052.2 1837.9,1052.2 1839.9,1052.2 1841.9,1052.2 1843.9,1052.2 1845.9,1052.2 1847.9,1052.2 1849.9,1052.3 1851.9,1052.3 1853.9,1052.3 1855.9,1052.3 1857.9,1052.3 1859.9,1052.3 1861.9,1052.3 1863.9,1052.4 1865.9,1052.4 1867.9,1052.4 1869.9,1052.4 1871.9,1052.4 1873.9,1052.4 1875.9,1052.4 1877.9,1052.5 1879.9,1052.5 1881.9,1052.5 1883.9,1052.5 1885.9,1052.5 1887.9,1052.5 1889.9,1052.5 1891.9,1052.5 1893.9,1052.6 1895.9,1052.6 1897.9,1052.6 1899.9,1052.6 1901.9,1052.6 1903.9,1052.6 1905.9,1052.6 1907.9,1052.6 1909.9,1052.7 1911.9,1052.7 1913.9,1052.7 1915.9,1052.7 1917.9,1052.7 1919.9,1052.7 1921.9,1052.7 1923.9,1052.7 1925.9,1052.8 1927.9,1052.8 1929.9,1052.8 1931.9,1052.8 1933.9,1052.8 1935.9,1052.8 1937.9,1052.8 1939.9,1052.8 1941.9,1052.9 1943.9,1052.9 1945.9,1052.9 1947.9,1052.9 1949.9,1052.9 1951.9,1052.9 1953.9,1052.9 1955.9,1052.9 1957.9,1052.9 1959.9,1053.0 1961.9,1053.0 1962.0,1053.0" fill="none" stroke="#0000FF" stroke-width="5.0" stroke-linejoin="round" stroke-linecap="butt"/>
<polyline points="271.2,977.1 271.4,974.2 271.6,971.4 271.7,968.5 271.9,965.6 272.1,962.7 272.3,959.8 272.5,956.9 272.6,954.0 272.8,951.2 273.0,948.3 273.2,945.5 273.3,942.7 273.5,940.0 273.7,936.9 273.8,933.7 273.9,930.3 273.9,926.9 274.0,923.6 274.1,920.4 274.2,917.4 274.4,914.6 274.6,912.2 274.9,910.3 275.3,908.8 276.1,907.1 277.0,906.5 278.0,908.1 279.0,911.0 279.7,913.5 280.3,916.2 281.4,918.0 283.8,918.4 286.5,918.0 288.4,917.4 290.4,916.6 292.6,915.9 295.0,915.5 297.5,915.1 300.2,914.9 302.8,914.9 305.4,915.1 307.9,915.6 310.5,916.2 313.0,916.9 315.6,917.8 318.1,918.9 320.6,920.0 323.2,921.0 325.7,921.8 328.3,922.6 330.8,923.4 333.4,924.1 336.0,924.8 338.5,925.5 341.1,926.3 343.6,927.1 346.2,928.0 348.7,929.0 351.3,930.1 353.8,931.2 356.4,932.4 358.9,933.6 361.5,934.9 364.0,936.3 366.1,937.7 368.1,939.2 370.1,940.7 372.1,942.2 374.2,943.5 376.7,944.8 379.2,945.8 381.8,946.8 384.4,947.6 386.9,948.3 389.5,948.8 392.0,949.3 394.7,949.6 397.1,949.8 399.5,950.0 401.9,950.1 404.4,950.1 406.9,950.1 409.6,949.9 412.3,949.7 415.0,949.4 417.7,949.0 420.2,948.6 422.7,948.2 425.1,947.7 427.5,947.1 430.0,946.5 432.4,945.8 434.9,945.1 437.5,944.3 440.0,943.4 442.5,942.3 445.0,941.0 447.5,939.6 450.0,938.0 452.4,936.4 454.9,934.9 457.4,933.4 459.9,932.0 462.4,930.5 464.9,929.0 467.4,927.4 469.5,926.0 471.6,924.6 473.7,923.1 475.8,921.6 477.8,920.2 479.9,918.7 482.0,917.2 484.0,915.8 486.1,914.3 488.2,912.8 490.2,911.4 492.3,909.9 494.4,908.5 496.5,907.1 498.6,905.7 500.7,904.2 502.7,902.8 504.8,901.2 506.9,899.4 509.1,897.6 511.2,895.7 513.3,893.7 515.4,891.8 517.3,890.0 519.1,888.2 520.9,886.6 522.6,884.9 524.2,883.2 526.0,881.2 527.6,879.2 529.3,877.1 531.0,874.8 532.7,872.5 534.5,870.1 536.2,867.7 538.0,865.4 539.7,863.3 541.4,861.1 543.1,859.0 544.9,856.8 546.6,854.6 548.3,852.5 550.0,850.4 551.6,848.3 553.4,845.8 555.3,843.3 557.0,840.8 558.7,838.5 560.3,836.4 561.8,834.6 564.0,832.2 566.0,830.5 567.3,829.8 568.7,829.5 570.3,829.7 572.0,830.5 573.6,831.8 575.4,833.6 577.2,835.7 578.9,838.0 580.1,840.0 581.3,842.1 582.5,844.3 583.6,846.7 584.6,849.2 585.7,851.7 586.6,854.1 587.5,856.7 588.3,859.4 589.1,862.2 589.9,864.9 590.7,867.5 591.6,870.0 592.6,872.2 593.9,874.8 595.2,877.3 596.6,879.6 598.0,881.4 599.4,882.4 601.7,882.2 604.0,881.0 605.9,879.6 607.8,877.9 609.6,877.3 611.1,878.4 612.5,880.6 613.8,883.5 615.2,886.5 616.5,889.3 617.6,891.8 618.7,894.6 619.8,897.5 620.9,900.1 622.0,902.0 623.3,902.9 625.5,901.8 627.9,899.3 630.1,897.8 632.1,898.5 634.0,900.0 635.7,901.5 637.5,903.1 639.4,903.9 641.2,903.0 643.2,900.9 645.2,898.9 646.9,898.0 649.0,899.1 651.0,901.0 652.8,902.8 654.6,904.7 656.6,906.0 658.6,906.0 660.8,905.4 663.1,905.4 665.1,906.4 667.2,908.3 669.5,910.4 671.7,912.5 673.9,914.0 676.0,914.6 678.0,913.7 680.0,911.7 681.9,909.3 683.8,907.4 685.7,906.7 687.6,907.7 689.6,910.0 691.5,912.9 693.5,915.9 695.5,918.3 697.6,919.6 699.9,919.3 702.3,918.0 704.7,916.4 707.1,915.0 709.4,914.6 711.4,915.4 713.4,916.9 715.2,918.7 717.1,920.6 719.1,922.2 721.2,923.6 723.4,924.9 725.6,926.2 727.8,927.1 729.9,927.6 732.5,927.1 734.9,925.9 737.4,925.4 739.8,926.3 742.2,928.1 744.7,929.9 747.1,930.8 749.6,930.2 752.1,929.0 754.6,928.6 756.5,929.6 758.3,931.4 760.1,933.5 762.1,935.6 764.3,937.3 766.6,938.3 769.2,939.0 771.9,939.6 774.6,940.1 777.2,940.8 779.4,941.6 781.5,942.9 783.3,944.4 785.0,945.8 787.0,947.0 789.7,947.7 792.7,948.0 795.8,948.3 798.8,949.1 801.1,950.4 803.5,952.3 805.9,954.4 808.2,956.4 810.5,958.0 812.8,958.8 815.5,958.5 818.2,957.4 820.9,956.2 823.6,955.6 825.9,955.8 828.3,956.4 830.6,957.3 833.0,958.2 835.4,959.2 838.0,960.3 840.7,961.5 843.3,962.7 845.9,964.0 848.3,965.3 850.6,966.8 852.6,968.4 854.7,969.7 857.0,970.6 859.4,970.6 862.0,969.9 864.7,969.0 867.4,968.4 869.9,968.5 872.2,969.6 874.3,971.3 876.4,973.4 878.5,975.2 880.7,976.5 883.3,977.0 886.1,976.9 888.8,976.8 891.4,977.1 893.6,977.9 895.7,978.9 897.7,980.1 900.0,981.4 902.2,982.7 904.5,984.2 906.9,985.8 909.5,987.4 912.2,988.8 915.0,990.0 917.4,990.7 920.1,991.3 922.8,991.7 925.6,992.0 928.5,992.3 931.4,992.6 934.3,992.8 937.2,993.1 940.0,993.5 942.8,993.9 945.6,994.4 948.3,994.9 951.1,995.4 953.9,995.8 956.7,996.3 959.4,996.7 962.2,997.1 965.0,997.5 967.8,997.8 970.5,998.1 973.3,998.3 976.1,998.5 978.9,998.7 981.7,998.9 984.4,999.1 987.2,999.3 990.0,999.5 992.8,999.7 995.7,999.9 998.6,1000.1 1001.5,1000.2 1004.3,1000.4 1007.1,1000.6 1009.9,1000.8 1012.5,1001.0 1015.0,1001.3 1017.7,1001.6 1020.3,1001.9 1022.8,1002.2 1025.2,1002.6 1027.6,1003.0 1030.0,1003.5 1032.5,1004.1 1035.0,1004.9 1037.4,1005.7 1039.9,1006.5 1042.4,1007.1 1045.0,1007.5 1047.8,1007.4 1050.7,1007.0 1053.7,1006.4 1056.6,1005.8 1059.6,1005.4 1062.5,1005.5 1065.1,1006.1 1067.8,1007.1 1070.4,1008.4 1073.0,1009.8 1075.7,1011.0 1078.3,1012.0 1081.0,1012.5 1083.7,1012.4 1086.4,1011.9 1089.1,1011.2 1091.9,1010.3 1094.6,1009.5 1097.3,1008.9 1100.0,1008.7 1102.5,1009.0 1105.0,1009.6 1107.4,1010.4 1109.9,1011.4 1112.3,1012.3 1114.9,1013.1 1117.5,1013.7 1120.1,1014.2 1122.8,1014.6 1125.4,1014.9 1128.1,1015.1 1131.0,1015.3 1133.8,1015.5 1136.9,1015.8 1140.0,1016.0 1142.5,1016.2 1145.1,1016.4 1147.7,1016.6 1150.5,1016.9 1153.3,1017.1 1156.1,1017.3 1159.0,1017.5 1161.9,1017.7 1164.9,1017.9 1167.9,1018.1 1170.9,1018.3 1173.9,1018.4 1177.0,1018.6 1180.0,1018.7 1182.8,1018.9 1185.6,1019.0 1188.5,1019.1 1191.4,1019.2 1194.3,1019.3 1197.2,1019.3 1200.2,1019.4 1203.2,1019.5 1206.1,1019.5 1209.1,1019.6 1212.1,1019.6 1215.1,1019.7 1218.1,1019.7 1221.1,1019.8 1224.1,1019.9 1227.0,1019.9 1230.0,1020.0 1232.9,1020.1 1235.8,1020.1 1238.6,1020.2 1241.4,1020.3 1244.2,1020.4 1247.0,1020.4 1249.7,1020.5 1252.5,1020.6 1255.3,1020.6 1258.2,1020.7 1261.1,1020.8 1264.0,1020.9 1267.1,1020.9 1270.1,1021.0 1273.3,1021.1 1276.6,1021.2 1280.0,1021.2 1283.5,1021.3 1287.1,1021.4 1290.7,1021.5 1294.5,1021.6 1298.3,1021.7 1302.2,1021.8 1306.1,1021.9 1310.2,1022.0 1314.2,1022.2 1318.4,1022.3 1322.6,1022.4 1326.8,1022.5 1331.1,1022.6 1335.4,1022.7 1339.7,1022.8 1344.1,1022.9 1348.5,1023.0 1353.0,1023.2 1357.5,1023.3 1361.9,1023.4 1366.4,1023.5 1371.0,1023.6 1375.5,1023.7 1380.0,1023.7 1385.4,1023.9 1390.9,1024.0 1396.4,1024.1 1402.1,1024.2 1407.7,1024.2 1413.4,1024.3 1419.2,1024.4 1425.0,1024.5 1430.9,1024.6 1436.8,1024.7 1442.8,1024.8 1448.7,1024.9 1454.7,1024.9 1460.7,1025.0 1466.7,1025.1 1472.8,1025.2 1478.8,1025.3 1484.9,1025.3 1490.9,1025.4 1497.0,1025.5 1503.0,1025.6 1509.0,1025.6 1515.0,1025.7 1521.0,1025.8 1527.2,1025.9 1533.3,1026.0 1539.5,1026.0 1545.7,1026.1 1551.9,1026.2 1558.2,1026.3 1564.4,1026.3 1570.7,1026.4 1576.9,1026.5 1583.2,1026.6 1589.4,1026.6 1595.7,1026.7 1602.0,1026.8 1608.3,1026.8 1614.5,1026.9 1620.8,1027.0 1627.1,1027.0 1633.4,1027.1 1639.7,1027.2 1645.9,1027.2 1652.2,1027.3 1658.5,1027.4 1664.7,1027.4 1671.0,1027.5 1677.3,1027.6 1683.5,1027.6 1689.8,1027.7 1696.1,1027.7 1702.3,1027.8 1708.6,1027.9 1714.9,1027.9 1721.2,1028.0 1727.5,1028.0 1733.7,1028.1 1740.0,1028.1 1746.3,1028.2 1752.6,1028.2 1758.8,1028.3 1765.1,1028.3 1771.3,1028.4 1777.6,1028.4 1783.8,1028.5 1790.1,1028.5 1796.3,1028.6 1802.5,1028.6 1808.7,1028.7 1814.8,1028.7 1821.0,1028.8 1827.0,1028.8 1832.9,1028.8 1838.8,1028.9 1844.8,1028.9 1850.7,1029.0 1856.6,1029.0 1862.4,1029.0 1868.3,1029.1 1874.2,1029.1 1880.1,1029.2 1885.9,1029.2 1891.8,1029.2 1897.6,1029.3 1903.5,1029.3 1909.3,1029.4 1915.2,1029.4 1921.0,1029.4 1926.9,1029.5 1932.7,1029.5 1938.6,1029.5 1944.4,1029.6 1950.3,1029.6 1956.1,1029.7 1962.0,1029.7" fill="none" stroke="#FF0000" stroke-width="5.0" stroke-linejoin="round" stroke-linecap="butt"/>
<polyline points="270.2,858.8 270.7,856.0 271.2,853.2 271.7,850.4 272.3,848.0 273.2,844.4 274.2,842.4 275.2,843.6 276.2,846.0 276.6,847.9 277.0,850.2 277.2,852.8 277.4,855.5 277.6,858.0 277.8,860.5 278.1,863.1 278.3,865.7 278.5,868.3 278.8,871.0 279.1,873.5 279.4,876.1 279.7,878.8 280.0,881.4 280.4,883.9 280.9,886.3 281.5,889.0 282.2,891.6 283.0,894.0 283.9,896.5 284.9,899.1 286.1,901.6 287.3,904.2 288.5,906.7 296.7,917.5 298.7,919.2 300.7,920.8 302.7,922.4 304.7,924.0 306.7,925.5 308.7,927.1 310.7,928.6 312.7,930.1 314.7,931.6 316.7,933.1 318.7,934.6 320.7,936.1 322.7,937.5 324.7,938.9 326.7,940.4 328.7,941.8 330.7,943.2 332.7,944.5 334.7,945.9 336.7,947.2 338.7,948.6 340.7,949.9 342.7,951.2 344.7,952.5 346.7,953.8 348.7,955.0 350.7,956.3 352.7,957.5 354.7,958.7 356.7,960.0 358.7,961.2 360.7,962.3 362.7,963.5 364.7,964.7 366.7,965.8 368.7,967.0 370.7,968.1 372.7,969.2 374.7,970.3 376.7,971.4 378.7,972.4 380.7,973.5 382.7,974.5 384.7,975.6 386.7,976.6 388.7,977.6 390.7,978.6 392.7,979.6 394.7,980.6 396.7,981.6 398.7,982.5 400.7,983.4 402.7,984.4 404.7,985.3 406.7,986.2 408.7,987.1 410.7,988.0 412.7,988.9 414.7,989.7 416.7,990.6 418.7,991.4 420.7,992.3 422.7,993.1 424.7,993.9 426.7,994.7 428.7,995.5 430.7,996.3 432.7,997.0 434.7,997.8 436.7,998.5 438.7,999.3 440.7,1000.0 442.7,1000.7 444.7,1001.5 446.7,1002.2 448.7,1002.8 450.7,1003.5 452.7,1004.2 454.7,1004.9 456.7,1005.5 458.7,1006.2 460.7,1006.8 462.7,1007.4 464.7,1008.1 466.7,1008.7 468.7,1009.3 470.7,1009.9 472.7,1010.4 474.7,1011.0 476.7,1011.6 478.7,1012.1 480.7,1012.7 482.7,1013.2 484.7,1013.8 486.7,1014.3 488.7,1014.8 490.7,1015.3 492.7,1015.8 494.7,1016.3 496.7,1016.8 498.7,1017.3 500.7,1017.8 502.7,1018.2 504.7,1018.7 506.7,1019.2 508.7,1019.6 510.7,1020.0 512.7,1020.5 514.7,1020.9 516.7,1021.3 518.7,1021.7 520.7,1022.1 522.7,1022.5 524.7,1022.9 526.7,1023.3 528.7,1023.7 530.7,1024.0 532.7,1024.4 534.7,1024.8 536.7,1025.1 538.7,1025.5 540.7,1025.8 542.7,1026.1 544.7,1026.5 546.7,1026.8 548.7,1027.1 550.7,1027.4 552.7,1027.7 554.7,1028.0 556.7,1028.3 558.7,1028.6 560.7,1028.9 562.7,1029.2 564.7,1029.5 566.7,1029.8 568.7,1030.0 570.7,1030.3 572.7,1030.5 574.7,1030.8 576.7,1031.0 578.7,1031.3 580.7,1031.5 582.7,1031.8 584.7,1032.0 586.7,1032.2 588.7,1032.5 590.7,1032.7 592.7,1032.9 594.7,1033.1 596.7,1033.3 598.7,1033.5 600.7,1033.7 602.7,1033.9 604.7,1034.1 606.7,1034.3 608.7,1034.5 610.7,1034.7 612.7,1034.9 614.7,1035.1 616.7,1035.2 618.7,1035.4 620.7,1035.6 622.7,1035.7 624.7,1035.9 626.7,1036.1 628.7,1036.2 630.7,1036.4 632.7,1036.5 634.7,1036.7 636.7,1036.8 638.7,1036.9 640.7,1037.1 642.7,1037.2 644.7,1037.3 646.7,1037.5 648.7,1037.6 650.7,1037.7 652.7,1037.8 654.7,1037.9 656.7,1038.0 658.7,1038.1 660.7,1038.3 662.7,1038.4 664.7,1038.5 666.7,1038.5 668.7,1038.6 670.7,1038.7 672.7,1038.8 674.7,1038.9 676.7,1039.0 678.7,1039.1 680.7,1039.1 682.7,1039.2 684.7,1039.3 686.7,1039.3 688.7,1039.4 690.7,1039.5 692.7,1039.5 694.7,1039.6 696.7,1039.6 698.7,1039.7 700.7,1039.7 702.7,1039.8 704.7,1039.8 706.7,1039.9 708.7,1039.9 710.7,1039.9 712.7,1040.0 714.7,1040.0 716.7,1040.0 718.7,1040.1 720.7,1040.1 722.7,1040.1 724.7,1040.1 726.7,1040.2 728.7,1040.2 730.7,1040.2 732.7,1040.2 734.7,1040.2 736.7,1040.2 738.7,1040.2 740.7,1040.2 742.7,1040.2 744.7,1040.2 746.7,1040.2 748.7,1040.2 750.7,1040.2 752.7,1040.2 754.7,1040.2 756.7,1040.2 758.7,1040.1 760.7,1040.1 762.7,1040.1 764.7,1040.1 766.7,1040.1 768.7,1040.0 770.7,1040.0 772.7,1040.0 774.7,1039.9 776.7,1039.9 778.7,1039.9 780.7,1039.8 782.7,1039.8 784.7,1039.8 786.7,1039.7 788.7,1039.7 790.7,1039.6 792.7,1039.6 794.7,1039.5 796.7,1039.5 798.7,1039.4 800.7,1039.4 802.7,1039.3 804.7,1039.3 806.7,1039.2 808.7,1039.2 810.7,1039.1 812.7,1039.0 814.7,1039.0 816.7,1038.9 818.7,1038.8 820.7,1038.8 822.7,1038.7 824.7,1038.6 826.7,1038.6 828.7,1038.5 830.7,1038.4 832.7,1038.4 834.7,1038.3 836.7,1038.2 838.7,1038.1 840.7,1038.1 842.7,1038.0 844.7,1037.9 846.7,1037.8 848.7,1037.7 850.7,1037.6 852.7,1037.6 854.7,1037.5 856.7,1037.4 858.7,1037.3 860.7,1037.2 862.7,1037.1 864.7,1037.0 866.7,1037.0 868.7,1036.9 870.7,1036.8 872.7,1036.7 874.7,1036.6 876.7,1036.5 878.7,1036.4 880.7,1036.3 882.7,1036.2 884.7,1036.1 886.7,1036.0 888.7,1035.9 890.7,1035.8 892.7,1035.7 894.7,1035.6 896.7,1035.5 898.7,1035.4 900.7,1035.3 902.7,1035.2 904.7,1035.1 906.7,1035.0 908.7,1034.9 910.7,1034.8 912.7,1034.7 914.7,1034.6 916.7,1034.5 918.7,1034.4 920.7,1034.3 922.7,1034.2 924.7,1034.1 926.7,1034.0 928.7,1033.9 930.7,1033.8 932.7,1033.7 934.7,1033.6 936.7,1033.5 938.7,1033.4 940.7,1033.3 942.7,1033.2 944.7,1033.0 946.7,1032.9 948.7,1032.8 950.7,1032.7 952.7,1032.6 954.7,1032.5 956.7,1032.4 958.7,1032.3 960.7,1032.2 962.7,1032.1 964.7,1032.0 966.7,1031.9 968.7,1031.8 970.7,1031.7 972.7,1031.6 974.7,1031.5 976.7,1031.4 978.7,1031.3 980.7,1031.2 982.7,1031.1 984.7,1031.0 986.7,1030.9 988.7,1030.8 990.7,1030.7 992.7,1030.6 994.7,1030.5 996.7,1030.4 998.7,1030.3 1000.7,1030.2 1002.7,1030.1 1004.7,1030.0 1006.7,1029.9 1008.7,1029.8 1010.7,1029.8 1012.7,1029.7 1014.7,1029.6 1016.7,1029.5 1018.7,1029.4 1020.7,1029.3 1022.7,1029.2 1024.7,1029.1 1026.7,1029.0 1028.7,1029.0 1030.7,1028.9 1032.7,1028.8 1034.7,1028.7 1036.7,1028.6 1038.7,1028.6 1040.7,1028.5 1042.7,1028.4 1044.7,1028.3 1046.7,1028.3 1048.7,1028.2 1050.7,1028.1 1052.7,1028.0 1054.7,1028.0 1056.7,1027.9 1058.7,1027.8 1060.7,1027.8 1062.7,1027.7 1064.7,1027.6 1066.7,1027.6 1068.7,1027.5 1070.7,1027.4 1072.7,1027.4 1074.7,1027.3 1076.7,1027.3 1078.7,1027.2 1080.7,1027.1 1082.7,1027.1 1084.7,1027.0 1086.7,1027.0 1088.7,1026.9 1090.7,1026.9 1092.7,1026.8 1094.7,1026.8 1096.7,1026.7 1098.7,1026.7 1100.7,1026.6 1102.7,1026.6 1104.7,1026.5 1106.7,1026.5 1108.7,1026.4 1110.7,1026.4 1112.7,1026.3 1114.7,1026.3 1116.7,1026.3 1118.7,1026.2 1120.7,1026.2 1122.7,1026.1 1124.7,1026.1 1126.7,1026.1 1128.7,1026.0 1130.7,1026.0 1132.7,1026.0 1134.7,1025.9 1136.7,1025.9 1138.7,1025.9 1140.7,1025.8 1142.7,1025.8 1144.7,1025.8 1146.7,1025.8 1148.7,1025.7 1150.7,1025.7 1152.7,1025.7 1154.7,1025.6 1156.7,1025.6 1158.7,1025.6 1160.7,1025.6 1162.7,1025.6 1164.7,1025.5 1166.7,1025.5 1168.7,1025.5 1170.7,1025.5 1172.7,1025.5 1174.7,1025.4 1176.7,1025.4 1178.7,1025.4 1180.7,1025.4 1182.7,1025.4 1184.7,1025.4 1186.7,1025.4 1188.7,1025.4 1190.7,1025.3 1192.7,1025.3 1194.7,1025.3 1196.7,1025.3 1198.7,1025.3 1200.7,1025.3 1202.7,1025.3 1204.7,1025.3 1206.7,1025.3 1208.7,1025.3 1210.7,1025.3 1212.7,1025.3 1214.7,1025.3 1216.7,1025.3 1218.7,1025.3 1220.7,1025.3 1222.7,1025.3 1224.7,1025.3 1226.7,1025.3 1228.7,1025.3 1230.7,1025.3 1232.7,1025.3 1234.7,1025.3 1236.7,1025.3 1238.7,1025.3 1240.7,1025.3 1242.7,1025.3 1244.7,1025.3 1246.7,1025.3 1248.7,1025.3 1250.7,1025.3 1252.7,1025.3 1254.7,1025.4 1256.7,1025.4 1258.7,1025.4 1260.7,1025.4 1262.7,1025.4 1264.7,1025.4 1266.7,1025.4 1268.7,1025.4 1270.7,1025.5 1272.7,1025.5 1274.7,1025.5 1276.7,1025.5 1278.7,1025.5 1280.7,1025.5 1282.7,1025.6 1284.7,1025.6 1286.7,1025.6 1288.7,1025.6 1290.7,1025.6 1292.7,1025.7 1294.7,1025.7 1296.7,1025.7 1298.7,1025.7 1300.7,1025.7 1302.7,1025.8 1304.7,1025.8 1306.7,1025.8 1308.7,1025.8 1310.7,1025.9 1312.7,1025.9 1314.7,1025.9 1316.7,1025.9 1318.7,1026.0 1320.7,1026.0 1322.7,1026.0 1324.7,1026.0 1326.7,1026.1 1328.7,1026.1 1330.7,1026.1 1332.7,1026.2 1334.7,1026.2 1336.7,1026.2 1338.7,1026.2 1340.7,1026.3 1342.7,1026.3 1344.7,1026.3 1346.7,1026.4 1348.7,1026.4 1350.7,1026.4 1352.7,1026.5 1354.7,1026.5 1356.7,1026.5 1358.7,1026.6 1360.7,1026.6 1362.7,1026.6 1364.7,1026.7 1366.7,1026.7 1368.7,1026.8 1370.7,1026.8 1372.7,1026.8 1374.7,1026.9 1376.7,1026.9 1378.7,1026.9 1380.7,1027.0 1382.7,1027.0 1384.7,1027.1 1386.7,1027.1 1388.7,1027.1 1390.7,1027.2 1392.7,1027.2 1394.7,1027.2 1396.7,1027.3 1398.7,1027.3 1400.7,1027.4 1402.7,1027.4 1404.7,1027.5 1406.7,1027.5 1408.7,1027.5 1410.7,1027.6 1412.7,1027.6 1414.7,1027.7 1416.7,1027.7 1418.7,1027.7 1420.7,1027.8 1422.7,1027.8 1424.7,1027.9 1426.7,1027.9 1428.7,1028.0 1430.7,1028.0 1432.7,1028.1 1434.7,1028.1 1436.7,1028.1 1438.7,1028.2 1440.7,1028.2 1442.7,1028.3 1444.7,1028.3 1446.7,1028.4 1448.7,1028.4 1450.7,1028.5 1452.7,1028.5 1454.7,1028.6 1456.7,1028.6 1458.7,1028.6 1460.7,1028.7 1462.7,1028.7 1464.7,1028.8 1466.7,1028.8 1468.7,1028.9 1470.7,1028.9 1472.7,1029.0 1474.7,1029.0 1476.7,1029.1 1478.7,1029.1 1480.7,1029.2 1482.7,1029.2 1484.7,1029.3 1486.7,1029.3 1488.7,1029.3 1490.7,1029.4 1492.7,1029.4 1494.7,1029.5 1496.7,1029.5 1498.7,1029.6 1500.7,1029.6 1502.7,1029.7 1504.7,1029.7 1506.7,1029.8 1508.7,1029.8 1510.7,1029.9 1512.7,1029.9 1514.7,1030.0 1516.7,1030.0 1518.7,1030.1 1520.7,1030.1 1522.7,1030.2 1524.7,1030.2 1526.7,1030.3 1528.7,1030.3 1530.7,1030.3 1532.7,1030.4 1534.7,1030.4 1536.7,1030.5 1538.7,1030.5 1540.7,1030.6 1542.7,1030.6 1544.7,1030.7 1546.7,1030.7 1548.7,1030.8 1550.7,1030.8 1552.7,1030.9 1554.7,1030.9 1556.7,1031.0 1558.7,1031.0 1560.7,1031.1 1562.7,1031.1 1564.7,1031.1 1566.7,1031.2 1568.7,1031.2 1570.7,1031.3 1572.7,1031.3 1574.7,1031.4 1576.7,1031.4 1578.7,1031.5 1580.7,1031.5 1582.7,1031.6 1584.7,1031.6 1586.7,1031.6 1588.7,1031.7 1590.7,1031.7 1592.7,1031.8 1594.7,1031.8 1596.7,1031.9 1598.7,1031.9 1600.7,1032.0 1602.7,1032.0 1604.7,1032.0 1606.7,1032.1 1608.7,1032.1 1610.7,1032.2 1612.7,1032.2 1614.7,1032.3 1616.7,1032.3 1618.7,1032.3 1620.7,1032.4 1622.7,1032.4 1624.7,1032.5 1626.7,1032.5 1628.7,1032.5 1630.7,1032.6 1632.7,1032.6 1634.7,1032.7 1636.7,1032.7 1638.7,1032.7 1640.7,1032.8 1642.7,1032.8 1644.7,1032.9 1646.7,1032.9 1648.7,1032.9 1650.7,1033.0 1652.7,1033.0 1654.7,1033.0 1656.7,1033.1 1658.7,1033.1 1660.7,1033.1 1662.7,1033.2 1664.7,1033.2 1666.7,1033.3 1668.7,1033.3 1670.7,1033.3 1672.7,1033.4 1674.7,1033.4 1676.7,1033.4 1678.7,1033.4 1680.7,1033.5 1682.7,1033.5 1684.7,1033.5 1686.7,1033.6 1688.7,1033.6 1690.7,1033.6 1692.7,1033.7 1694.7,1033.7 1696.7,1033.7 1698.7,1033.8 1700.7,1033.8 1702.7,1033.8 1704.7,1033.8 1706.7,1033.9 1708.7,1033.9 1710.7,1033.9 1712.7,1033.9 1714.7,1034.0 1716.7,1034.0 1718.7,1034.0 1720.7,1034.0 1722.7,1034.1 1724.7,1034.1 1726.7,1034.1 1728.7,1034.1 1730.7,1034.1 1732.7,1034.2 1734.7,1034.2 1736.7,1034.2 1738.7,1034.2 1740.7,1034.2 1742.7,1034.3 1744.7,1034.3 1746.7,1034.3 1748.7,1034.3 1750.7,1034.3 1752.7,1034.3 1754.7,1034.4 1756.7,1034.4 1758.7,1034.4 1760.7,1034.4 1762.7,1034.4 1764.7,1034.4 1766.7,1034.4 1768.7,1034.4 1770.7,1034.5 1772.7,1034.5 1774.7,1034.5 1776.7,1034.5 1778.7,1034.5 1780.7,1034.5 1782.7,1034.5 1784.7,1034.5 1786.7,1034.5 1788.7,1034.5 1790.7,1034.5 1792.7,1034.5 1794.7,1034.5 1796.7,1034.5 1798.7,1034.5 1800.7,1034.5 1802.7,1034.5 1804.7,1034.5 1806.7,1034.5 1808.7,1034.5 1810.7,1034.5 1812.7,1034.5 1814.7,1034.5 1816.7,1034.5 1818.7,1034.5 1820.7,1034.5 1822.7,1034.5 1824.7,1034.5 1826.7,1034.5 1828.7,1034.5 1830.7,1034.5 1832.7,1034.5 1834.7,1034.4 1836.7,1034.4 1838.7,1034.4 1840.7,1034.4 1842.7,1034.4 1844.7,1034.4 1846.7,1034.4 1848.7,1034.4 1850.7,1034.3 1852.7,1034.3 1854.7,1034.3 1856.7,1034.3 1858.7,1034.3 1860.7,1034.2 1862.7,1034.2 1864.7,1034.2 1866.7,1034.2 1868.7,1034.2 1870.7,1034.1 1872.7,1034.1 1874.7,1034.1 1876.7,1034.0 1878.7,1034.0 1880.7,1034.0 1882.7,1034.0 1884.7,1033.9 1886.7,1033.9 1888.7,1033.9 1890.7,1033.8 1892.7,1033.8 1894.7,1033.8 1896.7,1033.7 1898.7,1033.7 1900.7,1033.7 1902.7,1033.6 1904.7,1033.6 1906.7,1033.5 1908.7,1033.5 1910.7,1033.5 1912.7,1033.4 1914.7,1033.4 1916.7,1033.3 1918.7,1033.3 1920.7,1033.2 1922.7,1033.2 1924.7,1033.1 1926.7,1033.1 1928.7,1033.0 1930.7,1033.0 1932.7,1032.9 1934.7,1032.9 1936.7,1032.8 1938.7,1032.8 1940.7,1032.7 1942.7,1032.7 1944.7,1032.6 1946.7,1032.6 1948.7,1032.5 1950.7,1032.4 1952.7,1032.4 1954.7,1032.3 1956.7,1032.2 1958.7,1032.2 1960.7,1032.1 1962.0,1032.1" fill="none" stroke="#00FF00" stroke-width="5.0" stroke-linejoin="round" stroke-linecap="butt"/>
<polyline points="271.3,1066.8 274.1,1065.8 276.8,1064.8 279.5,1063.8 282.3,1062.9 285.2,1062.0 288.3,1061.1 290.8,1060.5 293.3,1059.9 295.9,1059.4 298.6,1058.9 301.4,1058.4 304.3,1057.9 307.2,1057.5 310.3,1057.1 313.4,1056.7 316.7,1056.3 319.2,1056.0 321.7,1055.8 324.3,1055.6 327.0,1055.4 329.7,1055.2 332.5,1055.0 335.3,1054.9 338.2,1054.7 341.1,1054.6 344.1,1054.5 347.1,1054.3 350.2,1054.2 353.4,1054.1 356.6,1054.0 359.8,1053.9 363.1,1053.8 366.5,1053.6 369.9,1053.5 373.4,1053.4 377.4,1053.3 381.5,1053.1 385.7,1053.0 390.0,1052.8 394.5,1052.7 399.0,1052.6 403.6,1052.5 408.3,1052.3 413.1,1052.2 417.9,1052.1 422.8,1052.0 427.7,1051.9 432.6,1051.8 437.6,1051.7 442.6,1051.6 447.6,1051.5 452.6,1051.4 457.5,1051.3 462.5,1051.2 467.5,1051.1 472.4,1051.0 477.2,1050.9 482.0,1050.9 486.8,1050.8 491.5,1050.7 496.2,1050.7 500.8,1050.6 505.4,1050.6 510.1,1050.5 514.6,1050.5 519.2,1050.4 523.8,1050.4 528.4,1050.4 533.0,1050.3 537.6,1050.3 542.2,1050.3 546.8,1050.2 551.5,1050.2 556.1,1050.2 560.8,1050.2 565.6,1050.2 570.3,1050.1 575.1,1050.1 580.0,1050.1 584.9,1050.1 589.9,1050.0 594.9,1050.0 600.0,1050.0 606.1,1050.0 612.3,1049.9 618.5,1049.9 624.7,1049.9 631.0,1049.8 637.3,1049.8 643.7,1049.8 650.1,1049.8 656.6,1049.7 663.1,1049.7 669.6,1049.7 676.3,1049.7 682.9,1049.6 689.6,1049.6 696.4,1049.6 703.2,1049.6 710.1,1049.6 717.1,1049.6 724.1,1049.5 731.1,1049.5 738.3,1049.5 745.4,1049.5 752.7,1049.5 760.0,1049.5 769.1,1049.5 778.2,1049.5 787.6,1049.5 797.0,1049.5 806.5,1049.5 816.2,1049.5 825.9,1049.5 835.7,1049.5 845.6,1049.5 855.6,1049.5 865.7,1049.5 875.8,1049.6 886.0,1049.6 896.2,1049.6 906.5,1049.6 916.8,1049.7 927.2,1049.7 937.6,1049.7 948.0,1049.8 958.4,1049.8 968.8,1049.8 979.2,1049.9 989.6,1049.9 1000.0,1050.0 1011.3,1050.1 1022.6,1050.1 1034.1,1050.2 1045.7,1050.3 1057.3,1050.4 1069.0,1050.6 1080.7,1050.7 1092.5,1050.8 1104.3,1050.9 1116.2,1051.1 1128.1,1051.2 1140.0,1051.3 1151.9,1051.5 1163.7,1051.6 1175.6,1051.7 1187.4,1051.8 1199.2,1051.9 1211.0,1052.0 1222.7,1052.2 1234.3,1052.2 1245.9,1052.3 1257.3,1052.4 1268.7,1052.5 1280.0,1052.5 1290.5,1052.5 1301.1,1052.6 1311.9,1052.6 1322.7,1052.6 1333.6,1052.6 1344.6,1052.6 1355.6,1052.6 1366.5,1052.6 1377.5,1052.6 1388.3,1052.6 1399.1,1052.6 1409.8,1052.6 1420.4,1052.6 1430.8,1052.5 1441.0,1052.5 1451.0,1052.5 1460.8,1052.4 1470.4,1052.4 1479.7,1052.3 1488.6,1052.3 1497.3,1052.2 1505.6,1052.1 1513.5,1052.1 1521.0,1052.0 1525.1,1052.0 1529.1,1051.9 1532.9,1051.9 1536.5,1051.8 1540.1,1051.7 1543.6,1051.7 1546.9,1051.6 1550.2,1051.6 1553.4,1051.5 1556.5,1051.4 1559.6,1051.4 1562.6,1051.3 1565.6,1051.2 1568.6,1051.2 1571.6,1051.1 1574.6,1051.0 1577.6,1051.0 1580.6,1050.9 1583.7,1050.8 1586.8,1050.8 1590.0,1050.7 1593.2,1050.6 1596.6,1050.6 1600.0,1050.5 1603.9,1050.4 1607.8,1050.4 1611.6,1050.3 1615.4,1050.2 1619.3,1050.2 1623.1,1050.1 1626.9,1050.0 1630.7,1049.9 1634.6,1049.9 1638.4,1049.8 1642.4,1049.7 1646.3,1049.7 1650.3,1049.6 1654.4,1049.5 1658.5,1049.5 1662.7,1049.4 1667.0,1049.4 1671.4,1049.3 1675.9,1049.2 1680.5,1049.2 1685.2,1049.1 1690.0,1049.1 1694.9,1049.0 1700.0,1049.0 1708.5,1048.9 1717.5,1048.9 1726.8,1048.8 1736.5,1048.8 1746.5,1048.8 1756.8,1048.8 1767.4,1048.7 1778.2,1048.7 1789.2,1048.7 1800.4,1048.7 1811.8,1048.7 1823.3,1048.7 1834.9,1048.7 1846.6,1048.7 1858.3,1048.8 1870.1,1048.8 1881.9,1048.8 1893.6,1048.8 1905.3,1048.8 1916.9,1048.8 1928.4,1048.8 1939.8,1048.8 1951.0,1048.8 1962.0,1048.8" fill="none" stroke="#BEBEBE" stroke-width="5.0" stroke-linejoin="round" stroke-linecap="butt"/>
</g>
<g>
<polyline points="269.5,2207.0 272.5,2195.9 275.5,2185.3 278.5,2175.1 281.5,2165.2 284.5,2155.5 287.5,2145.9 290.5,2136.3 293.5,2126.6 296.5,2116.8 299.5,2106.7 302.5,2096.3 305.5,2085.4 308.5,2073.9 311.5,2061.9 314.5,2049.4 317.5,2036.6 320.5,2023.4 323.5,2009.9 326.5,1996.4 329.5,1982.8 332.5,1969.2 335.5,1955.7 338.5,1942.2 341.5,1928.7 344.5,1915.4 347.5,1902.1 350.5,1889.0 353.5,1876.1 356.5,1863.3 359.5,1850.6 362.5,1838.2 365.5,1826.1 368.5,1814.1 371.5,1802.5 374.5,1791.1 377.5,1780.0 380.5,1769.2 383.5,1758.6 386.5,1748.4 389.5,1738.4 392.5,1728.6 395.5,1719.2 398.5,1710.0 401.5,1701.1 404.5,1692.5 407.5,1684.1 410.5,1676.0 413.5,1668.1 416.5,1660.5 419.5,1653.2 422.5,1646.1 425.5,1639.2 428.5,1632.6 431.5,1626.2 434.5,1620.1 437.5,1614.2 440.5,1608.5 443.5,1603.1 446.5,1597.8 449.5,1592.7 452.5,1587.9 455.5,1583.2 458.5,1578.7 461.5,1574.3 464.5,1570.1 467.5,1566.1 470.5,1562.2 473.5,1558.5 476.5,1554.9 479.5,1551.4 482.5,1548.1 485.5,1544.9 488.5,1541.7 491.5,1538.7 494.5,1535.8 497.5,1532.9 500.5,1530.1 503.5,1527.4 506.5,1524.8 509.5,1522.2 512.5,1519.7 515.5,1517.2 518.5,1514.8 521.5,1512.4 524.5,1510.0 527.5,1507.7 530.5,1505.5 533.5,1503.3 536.5,1501.2 539.5,1499.1 542.5,1497.0 545.5,1495.0 548.5,1493.0 551.5,1491.1 554.5,1489.2 557.5,1487.3 560.5,1485.5 563.5,1483.7 566.5,1482.0 569.5,1480.3 572.5,1478.6 575.5,1477.0 578.5,1475.4 581.5,1473.9 584.5,1472.4 587.5,1470.9 590.5,1469.4 593.5,1468.0 596.5,1466.6 599.5,1465.3 602.5,1463.9 605.5,1462.6 608.5,1461.4 611.5,1460.1 614.5,1458.9 617.5,1457.7 620.5,1456.6 623.5,1455.4 626.5,1454.3 629.5,1453.2 632.5,1452.2 635.5,1451.1 638.5,1450.1 641.5,1449.1 644.5,1448.1 647.5,1447.2 650.5,1446.2 653.5,1445.3 656.5,1444.4 659.5,1443.5 662.5,1442.7 665.5,1441.8 668.5,1441.0 671.5,1440.1 674.5,1439.3 677.5,1438.5 680.5,1437.8 683.5,1437.0 686.5,1436.2 689.5,1435.5 692.5,1434.7 695.5,1434.0 698.5,1433.3 701.5,1432.5 704.5,1431.8 707.5,1431.1 710.5,1430.4 713.5,1429.7 716.5,1429.0 719.5,1428.4 722.5,1427.7 725.5,1427.0 728.5,1426.3 731.5,1425.7 734.5,1425.0 737.5,1424.3 740.5,1423.7 743.5,1423.0 746.5,1422.4 749.5,1421.8 752.5,1421.1 755.5,1420.5 758.5,1419.9 761.5,1419.2 764.5,1418.6 767.5,1418.0 770.5,1417.4 773.5,1416.8 776.5,1416.2 779.5,1415.6 782.5,1415.0 785.5,1414.4 788.5,1413.8 791.5,1413.2 794.5,1412.6 797.5,1412.0 800.5,1411.5 803.5,1410.9 806.5,1410.3 809.5,1409.8 812.5,1409.2 815.5,1408.7 818.5,1408.1 821.5,1407.6 824.5,1407.0 827.5,1406.5 830.5,1405.9 833.5,1405.4 836.5,1404.8 839.5,1404.3 842.5,1403.8 845.5,1403.3 848.5,1402.7 851.5,1402.2 854.5,1401.7 857.5,1401.2 860.5,1400.7 863.5,1400.2 866.5,1399.7 869.5,1399.2 872.5,1398.7 875.5,1398.2 878.5,1397.7 881.5,1397.2 884.5,1396.7 887.5,1396.2 890.5,1395.7 893.5,1395.2 896.5,1394.8 899.5,1394.3 902.5,1393.8 905.5,1393.3 908.5,1392.9 911.5,1392.4 914.5,1391.9 917.5,1391.5 920.5,1391.0 923.5,1390.5 926.5,1390.1 929.5,1389.6 932.5,1389.2 935.5,1388.7 938.5,1388.3 941.5,1387.8 944.5,1387.4 947.5,1386.9 950.5,1386.5 953.5,1386.0 956.5,1385.6 959.5,1385.2 962.5,1384.7 965.5,1384.3 968.5,1383.8 971.5,1383.4 974.5,1383.0 977.5,1382.5 980.5,1382.1 983.5,1381.7 986.5,1381.3 989.5,1380.8 992.5,1380.4 995.5,1380.0 998.5,1379.6 1001.5,1379.1 1004.5,1378.7 1007.5,1378.3 1010.5,1377.9 1013.5,1377.5 1016.5,1377.0 1019.5,1376.6 1022.5,1376.2 1025.5,1375.8 1028.5,1375.4 1031.5,1375.0 1034.5,1374.5 1037.5,1374.1 1040.5,1373.7 1043.5,1373.3 1046.5,1372.9 1049.5,1372.5 1052.5,1372.1 1055.5,1371.7 1058.5,1371.3 1061.5,1370.9 1064.5,1370.4 1067.5,1370.0 1070.5,1369.6 1073.5,1369.2 1076.5,1368.8 1079.5,1368.4 1082.5,1368.0 1085.5,1367.6 1088.5,1367.2 1091.5,1366.8 1094.5,1366.4 1097.5,1366.0 1100.5,1365.6 1103.5,1365.2 1106.5,1364.8 1109.5,1364.4 1112.5,1364.1 1115.5,1363.7 1118.5,1363.3 1121.5,1362.9 1124.5,1362.5 1127.5,1362.1 1130.5,1361.7 1133.5,1361.3 1136.5,1360.9 1139.5,1360.5 1142.5,1360.1 1145.5,1359.8 1148.5,1359.4 1151.5,1359.0 1154.5,1358.6 1157.5,1358.2 1160.5,1357.8 1163.5,1357.4 1166.5,1357.1 1169.5,1356.7 1172.5,1356.3 1175.5,1355.9 1178.5,1355.5 1181.5,1355.1 1184.5,1354.8 1187.5,1354.4 1190.5,1354.0 1193.5,1353.6 1196.5,1353.2 1199.5,1352.9 1202.5,1352.5 1205.5,1352.1 1208.5,1351.7 1211.5,1351.3 1214.5,1351.0 1217.5,1350.6 1220.5,1350.2 1223.5,1349.8 1226.5,1349.5 1229.5,1349.1 1232.5,1348.7 1235.5,1348.3 1238.5,1348.0 1241.5,1347.6 1244.5,1347.2 1247.5,1346.8 1250.5,1346.5 1253.5,1346.1 1256.5,1345.7 1259.5,1345.3 1262.5,1345.0 1265.5,1344.6 1268.5,1344.2 1271.5,1343.8 1274.5,1343.5 1277.5,1343.1 1280.5,1342.7 1283.5,1342.4 1286.5,1342.0 1289.5,1341.6 1292.5,1341.2 1295.5,1340.9 1298.5,1340.5 1301.5,1340.1 1304.5,1339.8 1307.5,1339.4 1310.5,1339.0 1313.5,1338.7 1316.5,1338.3 1319.5,1337.9 1322.5,1337.6 1325.5,1337.2 1328.5,1336.8 1331.5,1336.4 1334.5,1336.1 1337.5,1335.7 1340.5,1335.3 1343.5,1335.0 1346.5,1334.6 1349.5,1334.2 1352.5,1333.9 1355.5,1333.5 1358.5,1333.1 1361.5,1332.8 1364.5,1332.4 1367.5,1332.0 1370.5,1331.7 1373.5,1331.3 1376.5,1330.9 1379.5,1330.5 1382.5,1330.2 1385.5,1329.8 1388.5,1329.4 1391.5,1329.1 1394.5,1328.7 1397.5,1328.3 1400.5,1328.0 1403.5,1327.6 1406.5,1327.2 1409.5,1326.9 1412.5,1326.5 1415.5,1326.1 1418.5,1325.7 1421.5,1325.4 1424.5,1325.0 1427.5,1324.6 1430.5,1324.3 1433.5,1323.9 1436.5,1323.5 1439.5,1323.1 1442.5,1322.8 1445.5,1322.4 1448.5,1322.0 1451.5,1321.7 1454.5,1321.3 1457.5,1320.9 1460.5,1320.5 1463.5,1320.2 1466.5,1319.8 1469.5,1319.4 1472.5,1319.0 1475.5,1318.7 1478.5,1318.3 1481.5,1317.9 1484.5,1317.5 1487.5,1317.2 1490.5,1316.8 1493.5,1316.4 1496.5,1316.0 1499.5,1315.7 1502.5,1315.3 1505.5,1314.9 1508.5,1314.5 1511.5,1314.1 1514.5,1313.8 1517.5,1313.4 1520.5,1313.0 1523.5,1312.6 1526.5,1312.2 1529.5,1311.9 1532.5,1311.5 1535.5,1311.1 1538.5,1310.7 1541.5,1310.3 1544.5,1310.0 1547.5,1309.6 1550.5,1309.2 1553.5,1308.8 1556.5,1308.4 1559.5,1308.0 1562.5,1307.6 1565.5,1307.3 1568.5,1306.9 1571.5,1306.5 1574.5,1306.1 1577.5,1305.7 1580.5,1305.3 1583.5,1304.9 1586.5,1304.5 1589.5,1304.1 1592.5,1303.8 1595.5,1303.4 1598.5,1303.0 1601.5,1302.6 1604.5,1302.2 1607.5,1301.8 1610.5,1301.4 1613.5,1301.0 1616.5,1300.6 1619.5,1300.2 1622.5,1299.8 1625.5,1299.4 1628.5,1299.0 1631.5,1298.6 1634.5,1298.2 1637.5,1297.8 1640.5,1297.4 1643.5,1297.0 1646.5,1296.6 1649.5,1296.2 1652.5,1295.8 1655.5,1295.4 1658.5,1295.0 1661.5,1294.6 1664.5,1294.1 1667.5,1293.7 1670.5,1293.3 1673.5,1292.9 1676.5,1292.5 1679.5,1292.1 1682.5,1291.7 1685.5,1291.3 1688.5,1290.8 1691.5,1290.4 1694.5,1290.0 1697.5,1289.6 1700.5,1289.2 1703.5,1288.8 1706.5,1288.3 1709.5,1287.9 1712.5,1287.5 1715.5,1287.1 1718.5,1286.6 1721.5,1286.2 1724.5,1285.8 1727.5,1285.4 1730.5,1284.9 1733.5,1284.5 1736.5,1284.1 1739.5,1283.7 1742.5,1283.2 1745.5,1282.8 1748.5,1282.4 1751.5,1281.9 1754.5,1281.5 1757.5,1281.1 1760.5,1280.6 1763.5,1280.2 1766.5,1279.7 1769.5,1279.3 1772.5,1278.9 1775.5,1278.4 1778.5,1278.0 1781.5,1277.5 1784.5,1277.1 1787.5,1276.6 1790.5,1276.2 1793.5,1275.7 1796.5,1275.3 1799.5,1274.8 1802.5,1274.4 1805.5,1273.9 1808.5,1273.5 1811.5,1273.0 1814.5,1272.6 1817.5,1272.1 1820.5,1271.6 1823.5,1271.2 1826.5,1270.7 1829.5,1270.2 1832.5,1269.8 1835.5,1269.3 1838.5,1268.9 1841.5,1268.4 1844.5,1267.9 1847.5,1267.4 1850.5,1267.0 1853.5,1266.5 1856.5,1266.0 1859.5,1265.5 1862.5,1265.1 1865.5,1264.6 1868.5,1264.1 1871.5,1263.6 1874.5,1263.2 1877.5,1262.7 1880.5,1262.2 1883.5,1261.7 1886.5,1261.2 1889.5,1260.7 1892.5,1260.2 1895.5,1259.7 1898.5,1259.2 1901.5,1258.8 1904.5,1258.3 1907.5,1257.8 1910.5,1257.3 1913.5,1256.8 1916.5,1256.3 1919.5,1255.8 1922.5,1255.3 1925.5,1254.7 1928.5,1254.2 1931.5,1253.7 1934.5,1253.2 1937.5,1252.7 1940.5,1252.2 1943.5,1251.7 1946.5,1251.2 1949.5,1250.6 1952.5,1250.1 1955.5,1249.6 1958.5,1249.1 1958.8,1249.0" fill="none" stroke="#000000" stroke-width="5.0" stroke-linejoin="round" stroke-linecap="butt"/>
<polyline points="269.5,2207.0 272.5,2197.3 275.5,2188.1 278.5,2179.4 281.5,2171.2 284.5,2163.3 287.5,2155.8 290.5,2148.5 293.5,2141.5 296.5,2134.7 299.5,2128.0 302.5,2121.5 305.5,2114.9 308.5,2108.4 311.5,2101.8 314.5,2095.2 317.5,2088.6 320.5,2081.9 323.5,2075.3 326.5,2068.7 329.5,2062.0 332.5,2055.4 335.5,2048.9 338.5,2042.4 341.5,2035.9 344.5,2029.5 347.5,2023.2 350.5,2016.9 353.5,2010.8 356.5,2004.7 359.5,1998.7 362.5,1992.9 365.5,1987.1 368.5,1981.5 371.5,1975.9 374.5,1970.5 377.5,1965.1 380.5,1959.9 383.5,1954.7 386.5,1949.6 389.5,1944.7 392.5,1939.8 395.5,1935.0 398.5,1930.2 401.5,1925.6 404.5,1921.0 407.5,1916.5 410.5,1912.1 413.5,1907.7 416.5,1903.4 419.5,1899.2 422.5,1895.0 425.5,1890.9 428.5,1886.9 431.5,1883.0 434.5,1879.2 437.5,1875.4 440.5,1871.7 443.5,1868.1 446.5,1864.5 449.5,1861.1 452.5,1857.7 455.5,1854.5 458.5,1851.3 461.5,1848.2 464.5,1845.3 467.5,1842.4 470.5,1839.6 473.5,1836.9 476.5,1834.3 479.5,1831.8 482.5,1829.4 485.5,1827.1 488.5,1824.9 491.5,1822.8 494.5,1820.8 497.5,1818.9 500.5,1817.0 503.5,1815.2 506.5,1813.5 509.5,1811.9 512.5,1810.3 515.5,1808.8 518.5,1807.4 521.5,1806.0 524.5,1804.7 527.5,1803.5 530.5,1802.3 533.5,1801.1 536.5,1800.0 539.5,1798.9 542.5,1797.9 545.5,1796.9 548.5,1796.0 551.5,1795.1 554.5,1794.2 557.5,1793.3 560.5,1792.5 563.5,1791.7 566.5,1790.9 569.5,1790.2 572.5,1789.4 575.5,1788.7 578.5,1788.1 581.5,1787.4 584.5,1786.8 587.5,1786.2 590.5,1785.6 593.5,1785.0 596.5,1784.4 599.5,1783.9 602.5,1783.4 605.5,1782.9 608.5,1782.4 611.5,1782.0 614.5,1781.6 617.5,1781.1 620.5,1780.7 623.5,1780.4 626.5,1780.0 629.5,1779.6 632.5,1779.3 635.5,1779.0 638.5,1778.7 641.5,1778.4 644.5,1778.1 647.5,1777.9 650.5,1777.6 653.5,1777.4 656.5,1777.1 659.5,1776.9 662.5,1776.7 665.5,1776.5 668.5,1776.3 671.5,1776.2 674.5,1776.0 677.5,1775.8 680.5,1775.7 683.5,1775.6 686.5,1775.4 689.5,1775.3 692.5,1775.2 695.5,1775.1 698.5,1775.0 701.5,1774.8 704.5,1774.7 707.5,1774.7 710.5,1774.6 713.5,1774.5 716.5,1774.4 719.5,1774.3 722.5,1774.2 725.5,1774.2 728.5,1774.1 731.5,1774.0 734.5,1773.9 737.5,1773.8 740.5,1773.8 743.5,1773.7 746.5,1773.6 749.5,1773.5 752.5,1773.5 755.5,1773.4 758.5,1773.3 761.5,1773.2 764.5,1773.2 767.5,1773.1 770.5,1773.0 773.5,1773.0 776.5,1772.9 779.5,1772.8 782.5,1772.7 785.5,1772.7 788.5,1772.6 791.5,1772.5 794.5,1772.5 797.5,1772.4 800.5,1772.3 803.5,1772.3 806.5,1772.2 809.5,1772.1 812.5,1772.1 815.5,1772.0 818.5,1771.9 821.5,1771.9 824.5,1771.8 827.5,1771.7 830.5,1771.7 833.5,1771.6 836.5,1771.5 839.5,1771.5 842.5,1771.4 845.5,1771.3 848.5,1771.3 851.5,1771.2 854.5,1771.1 857.5,1771.1 860.5,1771.0 863.5,1771.0 866.5,1770.9 869.5,1770.8 872.5,1770.8 875.5,1770.7 878.5,1770.7 881.5,1770.6 884.5,1770.5 887.5,1770.5 890.5,1770.4 893.5,1770.4 896.5,1770.3 899.5,1770.2 902.5,1770.2 905.5,1770.1 908.5,1770.1 911.5,1770.0 914.5,1770.0 917.5,1769.9 920.5,1769.8 923.5,1769.8 926.5,1769.7 929.5,1769.7 932.5,1769.6 935.5,1769.6 938.5,1769.5 941.5,1769.5 944.5,1769.4 947.5,1769.4 950.5,1769.3 953.5,1769.3 956.5,1769.2 959.5,1769.2 962.5,1769.1 965.5,1769.0 968.5,1769.0 971.5,1768.9 974.5,1768.9 977.5,1768.8 980.5,1768.8 983.5,1768.7 986.5,1768.7 989.5,1768.6 992.5,1768.6 995.5,1768.5 998.5,1768.5 1001.5,1768.5 1004.5,1768.4 1007.5,1768.4 1010.5,1768.3 1013.5,1768.3 1016.5,1768.2 1019.5,1768.2 1022.5,1768.1 1025.5,1768.1 1028.5,1768.0 1031.5,1768.0 1034.5,1767.9 1037.5,1767.9 1040.5,1767.9 1043.5,1767.8 1046.5,1767.8 1049.5,1767.7 1052.5,1767.7 1055.5,1767.6 1058.5,1767.6 1061.5,1767.5 1064.5,1767.5 1067.5,1767.5 1070.5,1767.4 1073.5,1767.4 1076.5,1767.3 1079.5,1767.3 1082.5,1767.3 1085.5,1767.2 1088.5,1767.2 1091.5,1767.1 1094.5,1767.1 1097.5,1767.0 1100.5,1767.0 1103.5,1767.0 1106.5,1766.9 1109.5,1766.9 1112.5,1766.9 1115.5,1766.8 1118.5,1766.8 1121.5,1766.7 1124.5,1766.7 1127.5,1766.7 1130.5,1766.6 1133.5,1766.6 1136.5,1766.5 1139.5,1766.5 1142.5,1766.5 1145.5,1766.4 1148.5,1766.4 1151.5,1766.4 1154.5,1766.3 1157.5,1766.3 1160.5,1766.3 1163.5,1766.2 1166.5,1766.2 1169.5,1766.2 1172.5,1766.1 1175.5,1766.1 1178.5,1766.1 1181.5,1766.0 1184.5,1766.0 1187.5,1765.9 1190.5,1765.9 1193.5,1765.9 1196.5,1765.8 1199.5,1765.8 1202.5,1765.8 1205.5,1765.8 1208.5,1765.7 1211.5,1765.7 1214.5,1765.7 1217.5,1765.6 1220.5,1765.6 1223.5,1765.6 1226.5,1765.5 1229.5,1765.5 1232.5,1765.5 1235.5,1765.4 1238.5,1765.4 1241.5,1765.4 1244.5,1765.3 1247.5,1765.3 1250.5,1765.3 1253.5,1765.3 1256.5,1765.2 1259.5,1765.2 1262.5,1765.2 1265.5,1765.1 1268.5,1765.1 1271.5,1765.1 1274.5,1765.1 1277.5,1765.0 1280.5,1765.0 1283.5,1765.0 1286.5,1764.9 1289.5,1764.9 1292.5,1764.9 1295.5,1764.9 1298.5,1764.8 1301.5,1764.8 1304.5,1764.8 1307.5,1764.7 1310.5,1764.7 1313.5,1764.7 1316.5,1764.7 1319.5,1764.6 1322.5,1764.6 1325.5,1764.6 1328.5,1764.6 1331.5,1764.5 1334.5,1764.5 1337.5,1764.5 1340.5,1764.5 1343.5,1764.4 1346.5,1764.4 1349.5,1764.4 1352.5,1764.4 1355.5,1764.3 1358.5,1764.3 1361.5,1764.3 1364.5,1764.3 1367.5,1764.2 1370.5,1764.2 1373.5,1764.2 1376.5,1764.2 1379.5,1764.1 1382.5,1764.1 1385.5,1764.1 1388.5,1764.1 1391.5,1764.1 1394.5,1764.0 1397.5,1764.0 1400.5,1764.0 1403.5,1764.0 1406.5,1763.9 1409.5,1763.9 1412.5,1763.9 1415.5,1763.9 1418.5,1763.8 1421.5,1763.8 1424.5,1763.8 1427.5,1763.8 1430.5,1763.8 1433.5,1763.7 1436.5,1763.7 1439.5,1763.7 1442.5,1763.7 1445.5,1763.7 1448.5,1763.6 1451.5,1763.6 1454.5,1763.6 1457.5,1763.6 1460.5,1763.5 1463.5,1763.5 1466.5,1763.5 1469.5,1763.5 1472.5,1763.5 1475.5,1763.4 1478.5,1763.4 1481.5,1763.4 1484.5,1763.4 1487.5,1763.4 1490.5,1763.3 1493.5,1763.3 1496.5,1763.3 1499.5,1763.3 1502.5,1763.3 1505.5,1763.2 1508.5,1763.2 1511.5,1763.2 1514.5,1763.2 1517.5,1763.2 1520.5,1763.1 1523.5,1763.1 1526.5,1763.1 1529.5,1763.1 1532.5,1763.1 1535.5,1763.1 1538.5,1763.0 1541.5,1763.0 1544.5,1763.0 1547.5,1763.0 1550.5,1763.0 1553.5,1762.9 1556.5,1762.9 1559.5,1762.9 1562.5,1762.9 1565.5,1762.9 1568.5,1762.8 1571.5,1762.8 1574.5,1762.8 1577.5,1762.8 1580.5,1762.8 1583.5,1762.8 1586.5,1762.7 1589.5,1762.7 1592.5,1762.7 1595.5,1762.7 1598.5,1762.7 1601.5,1762.6 1604.5,1762.6 1607.5,1762.6 1610.5,1762.6 1613.5,1762.6 1616.5,1762.6 1619.5,1762.5 1622.5,1762.5 1625.5,1762.5 1628.5,1762.5 1631.5,1762.5 1634.5,1762.4 1637.5,1762.4 1640.5,1762.4 1643.5,1762.4 1646.5,1762.4 1649.5,1762.4 1652.5,1762.3 1655.5,1762.3 1658.5,1762.3 1661.5,1762.3 1664.5,1762.3 1667.5,1762.3 1670.5,1762.2 1673.5,1762.2 1676.5,1762.2 1679.5,1762.2 1682.5,1762.2 1685.5,1762.1 1688.5,1762.1 1691.5,1762.1 1694.5,1762.1 1697.5,1762.1 1700.5,1762.1 1703.5,1762.0 1706.5,1762.0 1709.5,1762.0 1712.5,1762.0 1715.5,1762.0 1718.5,1761.9 1721.5,1761.9 1724.5,1761.9 1727.5,1761.9 1730.5,1761.9 1733.5,1761.9 1736.5,1761.8 1739.5,1761.8 1742.5,1761.8 1745.5,1761.8 1748.5,1761.8 1751.5,1761.8 1754.5,1761.7 1757.5,1761.7 1760.5,1761.7 1763.5,1761.7 1766.5,1761.7 1769.5,1761.6 1772.5,1761.6 1775.5,1761.6 1778.5,1761.6 1781.5,1761.6 1784.5,1761.6 1787.5,1761.5 1790.5,1761.5 1793.5,1761.5 1796.5,1761.5 1799.5,1761.5 1802.5,1761.4 1805.5,1761.4 1808.5,1761.4 1811.5,1761.4 1814.5,1761.4 1817.5,1761.3 1820.5,1761.3 1823.5,1761.3 1826.5,1761.3 1829.5,1761.3 1832.5,1761.3 1835.5,1761.2 1838.5,1761.2 1841.5,1761.2 1844.5,1761.2 1847.5,1761.2 1850.5,1761.1 1853.5,1761.1 1856.5,1761.1 1859.5,1761.1 1862.5,1761.1 1865.5,1761.0 1868.5,1761.0 1871.5,1761.0 1874.5,1761.0 1877.5,1761.0 1880.5,1760.9 1883.5,1760.9 1886.5,1760.9 1889.5,1760.9 1892.5,1760.9 1895.5,1760.8 1898.5,1760.8 1901.5,1760.8 1904.5,1760.8 1907.5,1760.7 1910.5,1760.7 1913.5,1760.7 1916.5,1760.7 1919.5,1760.7 1922.5,1760.6 1925.5,1760.6 1928.5,1760.6 1931.5,1760.6 1934.5,1760.6 1937.5,1760.5 1940.5,1760.5 1943.5,1760.5 1946.5,1760.5 1949.5,1760.4 1952.5,1760.4 1955.5,1760.4 1958.5,1760.4 1958.8,1760.4" fill="none" stroke="#0000FF" stroke-width="5.0" stroke-linejoin="round" stroke-linecap="butt"/>
<polyline points="269.5,2207.0 272.5,2205.4 275.5,2203.7 278.5,2202.0 281.5,2200.3 284.5,2198.6 287.5,2196.8 290.5,2195.1 293.5,2193.3 296.5,2191.5 299.5,2189.7 302.5,2187.9 305.5,2186.1 308.5,2184.3 311.5,2182.5 314.5,2180.7 317.5,2178.9 320.5,2177.0 323.5,2175.2 326.5,2173.4 329.5,2171.6 332.5,2169.8 335.5,2168.0 338.5,2166.3 341.5,2164.5 344.5,2162.8 347.5,2161.0 350.5,2159.3 353.5,2157.6 356.5,2156.0 359.5,2154.3 362.5,2152.7 365.5,2151.1 368.5,2149.5 371.5,2148.0 374.5,2146.5 377.5,2145.0 380.5,2143.6 383.5,2142.1 386.5,2140.7 389.5,2139.4 392.5,2138.0 395.5,2136.6 398.5,2135.3 401.5,2134.0 404.5,2132.6 407.5,2131.3 410.5,2130.0 413.5,2128.7 416.5,2127.4 419.5,2126.1 422.5,2124.7 425.5,2123.4 428.5,2122.1 431.5,2120.7 434.5,2119.4 437.5,2118.0 440.5,2116.6 443.5,2115.1 446.5,2113.7 449.5,2112.2 452.5,2110.7 455.5,2109.2 458.5,2107.6 461.5,2106.0 464.5,2104.4 467.5,2102.7 470.5,2101.0 473.5,2099.3 476.5,2097.5 479.5,2095.6 482.5,2093.7 485.5,2091.7 488.5,2089.7 491.5,2087.7 494.5,2085.6 497.5,2083.5 500.5,2081.3 503.5,2079.1 506.5,2076.8 509.5,2074.5 512.5,2072.2 515.5,2069.8 518.5,2067.4 521.5,2065.0 524.5,2062.6 527.5,2060.1 530.5,2057.6 533.5,2055.0 536.5,2052.5 539.5,2049.9 542.5,2047.3 545.5,2044.7 548.5,2042.1 551.5,2039.4 554.5,2036.8 557.5,2034.1 560.5,2031.4 563.5,2028.8 566.5,2026.1 569.5,2023.4 572.5,2020.7 575.5,2018.0 578.5,2015.4 581.5,2012.7 584.5,2010.1 587.5,2007.5 590.5,2004.9 593.5,2002.4 596.5,1999.8 599.5,1997.3 602.5,1994.8 605.5,1992.4 608.5,1989.9 611.5,1987.5 614.5,1985.1 617.5,1982.8 620.5,1980.5 623.5,1978.2 626.5,1975.9 629.5,1973.6 632.5,1971.4 635.5,1969.2 638.5,1967.0 641.5,1964.8 644.5,1962.7 647.5,1960.5 650.5,1958.4 653.5,1956.3 656.5,1954.2 659.5,1952.1 662.5,1950.1 665.5,1948.0 668.5,1946.0 671.5,1944.0 674.5,1941.9 677.5,1939.9 680.5,1938.0 683.5,1936.0 686.5,1934.0 689.5,1932.1 692.5,1930.1 695.5,1928.2 698.5,1926.3 701.5,1924.4 704.5,1922.6 707.5,1920.7 710.5,1918.8 713.5,1917.0 716.5,1915.2 719.5,1913.4 722.5,1911.6 725.5,1909.8 728.5,1908.0 731.5,1906.3 734.5,1904.5 737.5,1902.8 740.5,1901.1 743.5,1899.4 746.5,1897.7 749.5,1896.1 752.5,1894.4 755.5,1892.8 758.5,1891.1 761.5,1889.5 764.5,1887.9 767.5,1886.3 770.5,1884.8 773.5,1883.2 776.5,1881.6 779.5,1880.1 782.5,1878.6 785.5,1877.1 788.5,1875.6 791.5,1874.1 794.5,1872.7 797.5,1871.2 800.5,1869.8 803.5,1868.4 806.5,1867.0 809.5,1865.6 812.5,1864.2 815.5,1862.8 818.5,1861.5 821.5,1860.1 824.5,1858.8 827.5,1857.5 830.5,1856.2 833.5,1854.9 836.5,1853.7 839.5,1852.4 842.5,1851.2 845.5,1850.0 848.5,1848.8 851.5,1847.6 854.5,1846.4 857.5,1845.2 860.5,1844.1 863.5,1842.9 866.5,1841.8 869.5,1840.7 872.5,1839.6 875.5,1838.5 878.5,1837.4 881.5,1836.4 884.5,1835.3 887.5,1834.3 890.5,1833.3 893.5,1832.2 896.5,1831.3 899.5,1830.3 902.5,1829.3 905.5,1828.3 908.5,1827.4 911.5,1826.4 914.5,1825.5 917.5,1824.6 920.5,1823.7 923.5,1822.8 926.5,1821.9 929.5,1821.0 932.5,1820.2 935.5,1819.3 938.5,1818.5 941.5,1817.6 944.5,1816.8 947.5,1816.0 950.5,1815.2 953.5,1814.4 956.5,1813.6 959.5,1812.8 962.5,1812.1 965.5,1811.3 968.5,1810.5 971.5,1809.8 974.5,1809.1 977.5,1808.3 980.5,1807.6 983.5,1806.9 986.5,1806.2 989.5,1805.5 992.5,1804.8 995.5,1804.2 998.5,1803.5 1001.5,1802.8 1004.5,1802.2 1007.5,1801.5 1010.5,1800.9 1013.5,1800.2 1016.5,1799.6 1019.5,1799.0 1022.5,1798.3 1025.5,1797.7 1028.5,1797.1 1031.5,1796.5 1034.5,1795.9 1037.5,1795.3 1040.5,1794.7 1043.5,1794.1 1046.5,1793.6 1049.5,1793.0 1052.5,1792.4 1055.5,1791.9 1058.5,1791.3 1061.5,1790.7 1064.5,1790.2 1067.5,1789.6 1070.5,1789.1 1073.5,1788.6 1076.5,1788.0 1079.5,1787.5 1082.5,1786.9 1085.5,1786.4 1088.5,1785.9 1091.5,1785.4 1094.5,1784.9 1097.5,1784.3 1100.5,1783.8 1103.5,1783.3 1106.5,1782.8 1109.5,1782.3 1112.5,1781.8 1115.5,1781.3 1118.5,1780.8 1121.5,1780.3 1124.5,1779.8 1127.5,1779.3 1130.5,1778.8 1133.5,1778.3 1136.5,1777.8 1139.5,1777.3 1142.5,1776.8 1145.5,1776.3 1148.5,1775.8 1151.5,1775.4 1154.5,1774.9 1157.5,1774.4 1160.5,1773.9 1163.5,1773.5 1166.5,1773.0 1169.5,1772.5 1172.5,1772.1 1175.5,1771.6 1178.5,1771.1 1181.5,1770.7 1184.5,1770.2 1187.5,1769.7 1190.5,1769.3 1193.5,1768.8 1196.5,1768.4 1199.5,1767.9 1202.5,1767.5 1205.5,1767.0 1208.5,1766.6 1211.5,1766.2 1214.5,1765.7 1217.5,1765.3 1220.5,1764.8 1223.5,1764.4 1226.5,1764.0 1229.5,1763.5 1232.5,1763.1 1235.5,1762.7 1238.5,1762.2 1241.5,1761.8 1244.5,1761.4 1247.5,1761.0 1250.5,1760.5 1253.5,1760.1 1256.5,1759.7 1259.5,1759.3 1262.5,1758.9 1265.5,1758.5 1268.5,1758.1 1271.5,1757.6 1274.5,1757.2 1277.5,1756.8 1280.5,1756.4 1283.5,1756.0 1286.5,1755.6 1289.5,1755.2 1292.5,1754.8 1295.5,1754.4 1298.5,1754.0 1301.5,1753.6 1304.5,1753.2 1307.5,1752.8 1310.5,1752.5 1313.5,1752.1 1316.5,1751.7 1319.5,1751.3 1322.5,1750.9 1325.5,1750.5 1328.5,1750.1 1331.5,1749.8 1334.5,1749.4 1337.5,1749.0 1340.5,1748.6 1343.5,1748.3 1346.5,1747.9 1349.5,1747.5 1352.5,1747.1 1355.5,1746.8 1358.5,1746.4 1361.5,1746.0 1364.5,1745.7 1367.5,1745.3 1370.5,1745.0 1373.5,1744.6 1376.5,1744.2 1379.5,1743.9 1382.5,1743.5 1385.5,1743.2 1388.5,1742.8 1391.5,1742.5 1394.5,1742.1 1397.5,1741.7 1400.5,1741.4 1403.5,1741.0 1406.5,1740.7 1409.5,1740.4 1412.5,1740.0 1415.5,1739.7 1418.5,1739.3 1421.5,1739.0 1424.5,1738.6 1427.5,1738.3 1430.5,1738.0 1433.5,1737.6 1436.5,1737.3 1439.5,1737.0 1442.5,1736.6 1445.5,1736.3 1448.5,1736.0 1451.5,1735.6 1454.5,1735.3 1457.5,1735.0 1460.5,1734.6 1463.5,1734.3 1466.5,1734.0 1469.5,1733.7 1472.5,1733.3 1475.5,1733.0 1478.5,1732.7 1481.5,1732.4 1484.5,1732.0 1487.5,1731.7 1490.5,1731.4 1493.5,1731.1 1496.5,1730.8 1499.5,1730.5 1502.5,1730.1 1505.5,1729.8 1508.5,1729.5 1511.5,1729.2 1514.5,1728.9 1517.5,1728.6 1520.5,1728.3 1523.5,1728.0 1526.5,1727.6 1529.5,1727.3 1532.5,1727.0 1535.5,1726.7 1538.5,1726.4 1541.5,1726.1 1544.5,1725.8 1547.5,1725.5 1550.5,1725.2 1553.5,1724.9 1556.5,1724.6 1559.5,1724.3 1562.5,1724.0 1565.5,1723.7 1568.5,1723.4 1571.5,1723.1 1574.5,1722.8 1577.5,1722.5 1580.5,1722.2 1583.5,1721.9 1586.5,1721.6 1589.5,1721.3 1592.5,1721.0 1595.5,1720.7 1598.5,1720.5 1601.5,1720.2 1604.5,1719.9 1607.5,1719.6 1610.5,1719.3 1613.5,1719.0 1616.5,1718.7 1619.5,1718.4 1622.5,1718.1 1625.5,1717.9 1628.5,1717.6 1631.5,1717.3 1634.5,1717.0 1637.5,1716.7 1640.5,1716.4 1643.5,1716.1 1646.5,1715.9 1649.5,1715.6 1652.5,1715.3 1655.5,1715.0 1658.5,1714.7 1661.5,1714.4 1664.5,1714.2 1667.5,1713.9 1670.5,1713.6 1673.5,1713.3 1676.5,1713.0 1679.5,1712.7 1682.5,1712.5 1685.5,1712.2 1688.5,1711.9 1691.5,1711.6 1694.5,1711.4 1697.5,1711.1 1700.5,1710.8 1703.5,1710.5 1706.5,1710.2 1709.5,1710.0 1712.5,1709.7 1715.5,1709.4 1718.5,1709.1 1721.5,1708.9 1724.5,1708.6 1727.5,1708.3 1730.5,1708.0 1733.5,1707.7 1736.5,1707.5 1739.5,1707.2 1742.5,1706.9 1745.5,1706.6 1748.5,1706.4 1751.5,1706.1 1754.5,1705.8 1757.5,1705.5 1760.5,1705.3 1763.5,1705.0 1766.5,1704.7 1769.5,1704.4 1772.5,1704.2 1775.5,1703.9 1778.5,1703.6 1781.5,1703.3 1784.5,1703.1 1787.5,1702.8 1790.5,1702.5 1793.5,1702.2 1796.5,1702.0 1799.5,1701.7 1802.5,1701.4 1805.5,1701.1 1808.5,1700.9 1811.5,1700.6 1814.5,1700.3 1817.5,1700.0 1820.5,1699.8 1823.5,1699.5 1826.5,1699.2 1829.5,1698.9 1832.5,1698.7 1835.5,1698.4 1838.5,1698.1 1841.5,1697.8 1844.5,1697.5 1847.5,1697.3 1850.5,1697.0 1853.5,1696.7 1856.5,1696.4 1859.5,1696.2 1862.5,1695.9 1865.5,1695.6 1868.5,1695.3 1871.5,1695.0 1874.5,1694.8 1877.5,1694.5 1880.5,1694.2 1883.5,1693.9 1886.5,1693.6 1889.5,1693.4 1892.5,1693.1 1895.5,1692.8 1898.5,1692.5 1901.5,1692.2 1904.5,1691.9 1907.5,1691.7 1910.5,1691.4 1913.5,1691.1 1916.5,1690.8 1919.5,1690.5 1922.5,1690.2 1925.5,1690.0 1928.5,1689.7 1931.5,1689.4 1934.5,1689.1 1937.5,1688.8 1940.5,1688.5 1943.5,1688.2 1946.5,1687.9 1949.5,1687.6 1952.5,1687.4 1955.5,1687.1 1958.5,1686.8 1958.8,1686.7" fill="none" stroke="#FF0000" stroke-width="5.0" stroke-linejoin="round" stroke-linecap="butt"/>
<polyline points="269.5,2207.0 272.5,2204.5 275.5,2202.1 278.5,2199.8 281.5,2197.5 284.5,2195.2 287.5,2193.0 290.5,2190.9 293.5,2188.8 296.5,2186.8 299.5,2184.8 302.5,2182.9 305.5,2181.0 308.5,2179.1 311.5,2177.4 314.5,2175.6 317.5,2173.9 320.5,2172.3 323.5,2170.6 326.5,2169.1 329.5,2167.5 332.5,2166.0 335.5,2164.6 338.5,2163.2 341.5,2161.8 344.5,2160.4 347.5,2159.1 350.5,2157.9 353.5,2156.6 356.5,2155.4 359.5,2154.2 362.5,2153.1 365.5,2151.9 368.5,2150.8 371.5,2149.8 374.5,2148.7 377.5,2147.7 380.5,2146.7 383.5,2145.7 386.5,2144.8 389.5,2143.8 392.5,2142.9 395.5,2142.0 398.5,2141.2 401.5,2140.3 404.5,2139.4 407.5,2138.6 410.5,2137.8 413.5,2137.0 416.5,2136.2 419.5,2135.4 422.5,2134.7 425.5,2133.9 428.5,2133.2 431.5,2132.5 434.5,2131.8 437.5,2131.1 440.5,2130.4 443.5,2129.7 446.5,2129.0 449.5,2128.4 452.5,2127.7 455.5,2127.1 458.5,2126.5 461.5,2125.9 464.5,2125.3 467.5,2124.7 470.5,2124.2 473.5,2123.6 476.5,2123.1 479.5,2122.5 482.5,2122.0 485.5,2121.5 488.5,2121.0 491.5,2120.5 494.5,2120.0 497.5,2119.5 500.5,2119.0 503.5,2118.6 506.5,2118.1 509.5,2117.7 512.5,2117.2 515.5,2116.8 518.5,2116.4 521.5,2116.0 524.5,2115.6 527.5,2115.2 530.5,2114.8 533.5,2114.5 536.5,2114.1 539.5,2113.7 542.5,2113.4 545.5,2113.0 548.5,2112.7 551.5,2112.4 554.5,2112.0 557.5,2111.7 560.5,2111.4 563.5,2111.1 566.5,2110.8 569.5,2110.5 572.5,2110.2 575.5,2110.0 578.5,2109.7 581.5,2109.4 584.5,2109.2 587.5,2108.9 590.5,2108.7 593.5,2108.4 596.5,2108.2 599.5,2107.9 602.5,2107.7 605.5,2107.5 608.5,2107.3 611.5,2107.0 614.5,2106.8 617.5,2106.6 620.5,2106.4 623.5,2106.2 626.5,2106.0 629.5,2105.8 632.5,2105.6 635.5,2105.4 638.5,2105.2 641.5,2105.0 644.5,2104.9 647.5,2104.7 650.5,2104.5 653.5,2104.3 656.5,2104.2 659.5,2104.0 662.5,2103.8 665.5,2103.6 668.5,2103.5 671.5,2103.3 674.5,2103.1 677.5,2103.0 680.5,2102.8 683.5,2102.7 686.5,2102.5 689.5,2102.3 692.5,2102.2 695.5,2102.0 698.5,2101.9 701.5,2101.7 704.5,2101.5 707.5,2101.4 710.5,2101.2 713.5,2101.0 716.5,2100.9 719.5,2100.7 722.5,2100.6 725.5,2100.4 728.5,2100.2 731.5,2100.1 734.5,2099.9 737.5,2099.7 740.5,2099.5 743.5,2099.4 746.5,2099.2 749.5,2099.0 752.5,2098.8 755.5,2098.6 758.5,2098.4 761.5,2098.3 764.5,2098.1 767.5,2097.9 770.5,2097.7 773.5,2097.5 776.5,2097.3 779.5,2097.1 782.5,2096.9 785.5,2096.7 788.5,2096.5 791.5,2096.3 794.5,2096.1 797.5,2095.9 800.5,2095.7 803.5,2095.5 806.5,2095.3 809.5,2095.1 812.5,2094.9 815.5,2094.7 818.5,2094.4 821.5,2094.2 824.5,2094.0 827.5,2093.8 830.5,2093.6 833.5,2093.4 836.5,2093.1 839.5,2092.9 842.5,2092.7 845.5,2092.5 848.5,2092.2 851.5,2092.0 854.5,2091.8 857.5,2091.5 860.5,2091.3 863.5,2091.1 866.5,2090.8 869.5,2090.6 872.5,2090.4 875.5,2090.1 878.5,2089.9 881.5,2089.6 884.5,2089.4 887.5,2089.2 890.5,2088.9 893.5,2088.7 896.5,2088.4 899.5,2088.2 902.5,2087.9 905.5,2087.7 908.5,2087.4 911.5,2087.2 914.5,2086.9 917.5,2086.7 920.5,2086.4 923.5,2086.1 926.5,2085.9 929.5,2085.6 932.5,2085.4 935.5,2085.1 938.5,2084.8 941.5,2084.6 944.5,2084.3 947.5,2084.0 950.5,2083.8 953.5,2083.5 956.5,2083.2 959.5,2083.0 962.5,2082.7 965.5,2082.4 968.5,2082.1 971.5,2081.9 974.5,2081.6 977.5,2081.3 980.5,2081.0 983.5,2080.8 986.5,2080.5 989.5,2080.2 992.5,2079.9 995.5,2079.6 998.5,2079.4 1001.5,2079.1 1004.5,2078.8 1007.5,2078.5 1010.5,2078.2 1013.5,2077.9 1016.5,2077.6 1019.5,2077.3 1022.5,2077.1 1025.5,2076.8 1028.5,2076.5 1031.5,2076.2 1034.5,2075.9 1037.5,2075.6 1040.5,2075.3 1043.5,2075.0 1046.5,2074.7 1049.5,2074.4 1052.5,2074.1 1055.5,2073.8 1058.5,2073.5 1061.5,2073.2 1064.5,2072.9 1067.5,2072.6 1070.5,2072.3 1073.5,2072.0 1076.5,2071.7 1079.5,2071.4 1082.5,2071.1 1085.5,2070.8 1088.5,2070.5 1091.5,2070.2 1094.5,2069.9 1097.5,2069.6 1100.5,2069.2 1103.5,2068.9 1106.5,2068.6 1109.5,2068.3 1112.5,2068.0 1115.5,2067.7 1118.5,2067.4 1121.5,2067.1 1124.5,2066.8 1127.5,2066.4 1130.5,2066.1 1133.5,2065.8 1136.5,2065.5 1139.5,2065.2 1142.5,2064.9 1145.5,2064.5 1148.5,2064.2 1151.5,2063.9 1154.5,2063.6 1157.5,2063.3 1160.5,2062.9 1163.5,2062.6 1166.5,2062.3 1169.5,2062.0 1172.5,2061.7 1175.5,2061.3 1178.5,2061.0 1181.5,2060.7 1184.5,2060.4 1187.5,2060.1 1190.5,2059.7 1193.5,2059.4 1196.5,2059.1 1199.5,2058.8 1202.5,2058.4 1205.5,2058.1 1208.5,2057.8 1211.5,2057.5 1214.5,2057.1 1217.5,2056.8 1220.5,2056.5 1223.5,2056.1 1226.5,2055.8 1229.5,2055.5 1232.5,2055.2 1235.5,2054.8 1238.5,2054.5 1241.5,2054.2 1244.5,2053.8 1247.5,2053.5 1250.5,2053.2 1253.5,2052.9 1256.5,2052.5 1259.5,2052.2 1262.5,2051.9 1265.5,2051.5 1268.5,2051.2 1271.5,2050.9 1274.5,2050.5 1277.5,2050.2 1280.5,2049.9 1283.5,2049.6 1286.5,2049.2 1289.5,2048.9 1292.5,2048.6 1295.5,2048.2 1298.5,2047.9 1301.5,2047.6 1304.5,2047.2 1307.5,2046.9 1310.5,2046.6 1313.5,2046.2 1316.5,2045.9 1319.5,2045.6 1322.5,2045.2 1325.5,2044.9 1328.5,2044.6 1331.5,2044.2 1334.5,2043.9 1337.5,2043.6 1340.5,2043.2 1343.5,2042.9 1346.5,2042.6 1349.5,2042.2 1352.5,2041.9 1355.5,2041.6 1358.5,2041.3 1361.5,2040.9 1364.5,2040.6 1367.5,2040.3 1370.5,2039.9 1373.5,2039.6 1376.5,2039.3 1379.5,2038.9 1382.5,2038.6 1385.5,2038.3 1388.5,2037.9 1391.5,2037.6 1394.5,2037.3 1397.5,2037.0 1400.5,2036.6 1403.5,2036.3 1406.5,2036.0 1409.5,2035.6 1412.5,2035.3 1415.5,2035.0 1418.5,2034.7 1421.5,2034.3 1424.5,2034.0 1427.5,2033.7 1430.5,2033.3 1433.5,2033.0 1436.5,2032.7 1439.5,2032.4 1442.5,2032.0 1445.5,2031.7 1448.5,2031.4 1451.5,2031.1 1454.5,2030.7 1457.5,2030.4 1460.5,2030.1 1463.5,2029.8 1466.5,2029.5 1469.5,2029.1 1472.5,2028.8 1475.5,2028.5 1478.5,2028.2 1481.5,2027.8 1484.5,2027.5 1487.5,2027.2 1490.5,2026.9 1493.5,2026.6 1496.5,2026.2 1499.5,2025.9 1502.5,2025.6 1505.5,2025.3 1508.5,2025.0 1511.5,2024.7 1514.5,2024.3 1517.5,2024.0 1520.5,2023.7 1523.5,2023.4 1526.5,2023.1 1529.5,2022.8 1532.5,2022.5 1535.5,2022.2 1538.5,2021.8 1541.5,2021.5 1544.5,2021.2 1547.5,2020.9 1550.5,2020.6 1553.5,2020.3 1556.5,2020.0 1559.5,2019.7 1562.5,2019.4 1565.5,2019.1 1568.5,2018.8 1571.5,2018.5 1574.5,2018.2 1577.5,2017.9 1580.5,2017.6 1583.5,2017.3 1586.5,2017.0 1589.5,2016.7 1592.5,2016.4 1595.5,2016.1 1598.5,2015.8 1601.5,2015.5 1604.5,2015.2 1607.5,2014.9 1610.5,2014.6 1613.5,2014.3 1616.5,2014.0 1619.5,2013.7 1622.5,2013.4 1625.5,2013.1 1628.5,2012.8 1631.5,2012.5 1634.5,2012.3 1637.5,2012.0 1640.5,2011.7 1643.5,2011.4 1646.5,2011.1 1649.5,2010.8 1652.5,2010.6 1655.5,2010.3 1658.5,2010.0 1661.5,2009.7 1664.5,2009.4 1667.5,2009.2 1670.5,2008.9 1673.5,2008.6 1676.5,2008.3 1679.5,2008.1 1682.5,2007.8 1685.5,2007.5 1688.5,2007.2 1691.5,2007.0 1694.5,2006.7 1697.5,2006.4 1700.5,2006.2 1703.5,2005.9 1706.5,2005.6 1709.5,2005.4 1712.5,2005.1 1715.5,2004.9 1718.5,2004.6 1721.5,2004.3 1724.5,2004.1 1727.5,2003.8 1730.5,2003.6 1733.5,2003.3 1736.5,2003.1 1739.5,2002.8 1742.5,2002.6 1745.5,2002.3 1748.5,2002.1 1751.5,2001.8 1754.5,2001.6 1757.5,2001.3 1760.5,2001.1 1763.5,2000.8 1766.5,2000.6 1769.5,2000.3 1772.5,2000.1 1775.5,1999.9 1778.5,1999.6 1781.5,1999.4 1784.5,1999.2 1787.5,1998.9 1790.5,1998.7 1793.5,1998.5 1796.5,1998.2 1799.5,1998.0 1802.5,1997.8 1805.5,1997.6 1808.5,1997.3 1811.5,1997.1 1814.5,1996.9 1817.5,1996.7 1820.5,1996.5 1823.5,1996.2 1826.5,1996.0 1829.5,1995.8 1832.5,1995.6 1835.5,1995.4 1838.5,1995.2 1841.5,1995.0 1844.5,1994.8 1847.5,1994.6 1850.5,1994.4 1853.5,1994.2 1856.5,1994.0 1859.5,1993.8 1862.5,1993.6 1865.5,1993.4 1868.5,1993.2 1871.5,1993.0 1874.5,1992.8 1877.5,1992.6 1880.5,1992.4 1883.5,1992.2 1886.5,1992.0 1889.5,1991.8 1892.5,1991.7 1895.5,1991.5 1898.5,1991.3 1901.5,1991.1 1904.5,1990.9 1907.5,1990.8 1910.5,1990.6 1913.5,1990.4 1916.5,1990.3 1919.5,1990.1 1922.5,1989.9 1925.5,1989.8 1928.5,1989.6 1931.5,1989.4 1934.5,1989.3 1937.5,1989.1 1940.5,1989.0 1943.5,1988.8 1946.5,1988.7 1949.5,1988.5 1952.5,1988.4 1955.5,1988.2 1958.5,1988.1 1959.4,1988.0" fill="none" stroke="#00FF00" stroke-width="5.0" stroke-linejoin="round" stroke-linecap="butt"/>
<polyline points="267.5,2209.0 275.5,2209.3 283.5,2209.6 291.5,2209.9 299.5,2210.1 307.5,2210.4 315.5,2210.6 323.5,2210.8 331.5,2211.0 339.5,2211.2 347.5,2211.4 355.5,2211.6 363.5,2211.8 371.5,2211.9 379.5,2212.1 387.5,2212.2 395.5,2212.4 403.5,2212.5 411.5,2212.6 419.5,2212.7 427.5,2212.8 435.5,2212.9 443.5,2212.9 451.5,2213.0 459.5,2213.0 467.5,2213.1 475.5,2213.1 483.5,2213.2 491.5,2213.2 499.5,2213.2 507.5,2213.2 515.5,2213.2 523.5,2213.2 531.5,2213.2 539.5,2213.2 547.5,2213.2 555.5,2213.2 563.5,2213.1 571.5,2213.1 579.5,2213.1 587.5,2213.0 595.5,2213.0 603.5,2212.9 611.5,2212.8 619.5,2212.8 627.5,2212.7 635.5,2212.6 643.5,2212.6 651.5,2212.5 659.5,2212.4 667.5,2212.3 675.5,2212.2 683.5,2212.2 691.5,2212.1 699.5,2212.0 707.5,2211.9 715.5,2211.8 723.5,2211.7 731.5,2211.6 739.5,2211.5 747.5,2211.4 755.5,2211.3 763.5,2211.2 771.5,2211.1 779.5,2211.0 787.5,2210.9 795.5,2210.8 803.5,2210.7 811.5,2210.6 819.5,2210.5 827.5,2210.4 835.5,2210.3 843.5,2210.2 851.5,2210.1 859.5,2210.0 867.5,2209.9 875.5,2209.9 883.5,2209.8 891.5,2209.7 899.5,2209.6 907.5,2209.6 915.5,2209.5 923.5,2209.4 931.5,2209.4 939.5,2209.3 947.5,2209.3 955.5,2209.2 963.5,2209.2 971.5,2209.1 979.5,2209.1 987.5,2209.1 995.5,2209.0 1003.5,2209.0 1011.5,2209.0 1019.5,2209.0 1027.5,2208.9 1035.5,2208.9 1043.5,2208.9 1051.5,2208.9 1059.5,2208.9 1067.5,2208.9 1075.5,2208.9 1083.5,2208.9 1091.5,2208.9 1099.5,2208.9 1107.5,2208.9 1115.5,2208.9 1123.5,2208.9 1131.5,2208.9 1139.5,2209.0 1147.5,2209.0 1155.5,2209.0 1163.5,2209.0 1171.5,2209.0 1179.5,2209.1 1187.5,2209.1 1195.5,2209.1 1203.5,2209.2 1211.5,2209.2 1219.5,2209.2 1227.5,2209.3 1235.5,2209.3 1243.5,2209.3 1251.5,2209.4 1259.5,2209.4 1267.5,2209.4 1275.5,2209.5 1283.5,2209.5 1291.5,2209.6 1299.5,2209.6 1307.5,2209.6 1315.5,2209.7 1323.5,2209.7 1331.5,2209.8 1339.5,2209.8 1347.5,2209.8 1355.5,2209.9 1363.5,2209.9 1371.5,2210.0 1379.5,2210.0 1387.5,2210.1 1395.5,2210.1 1403.5,2210.1 1411.5,2210.2 1419.5,2210.2 1427.5,2210.3 1435.5,2210.3 1443.5,2210.3 1451.5,2210.4 1459.5,2210.4 1467.5,2210.4 1475.5,2210.5 1483.5,2210.5 1491.5,2210.5 1499.5,2210.6 1507.5,2210.6 1515.5,2210.6 1523.5,2210.6 1531.5,2210.7 1539.5,2210.7 1547.5,2210.7 1555.5,2210.7 1563.5,2210.7 1571.5,2210.7 1579.5,2210.7 1587.5,2210.8 1595.5,2210.8 1603.5,2210.8 1611.5,2210.8 1619.5,2210.8 1627.5,2210.8 1635.5,2210.8 1643.5,2210.7 1651.5,2210.7 1659.5,2210.7 1667.5,2210.7 1675.5,2210.7 1683.5,2210.7 1691.5,2210.6 1699.5,2210.6 1707.5,2210.6 1715.5,2210.5 1723.5,2210.5 1731.5,2210.4 1739.5,2210.4 1747.5,2210.3 1755.5,2210.3 1763.5,2210.2 1771.5,2210.2 1779.5,2210.1 1787.5,2210.0 1795.5,2210.0 1803.5,2209.9 1811.5,2209.8 1819.5,2209.7 1827.5,2209.6 1835.5,2209.5 1843.5,2209.4 1851.5,2209.3 1859.5,2209.2 1867.5,2209.1 1875.5,2209.0 1883.5,2208.8 1891.5,2208.7 1899.5,2208.6 1907.5,2208.4 1915.5,2208.3 1923.5,2208.1 1931.5,2208.0 1939.5,2207.8 1947.5,2207.6 1955.5,2207.5 1963.5,2207.3 1971.5,2207.1 1972.8,2207.1" fill="none" stroke="#BEBEBE" stroke-width="5.0" stroke-linejoin="round" stroke-linecap="butt"/>
</g>
<rect x="203.6" y="31.3" width="1823.6" height="1035.0" fill="none" stroke="#000" stroke-width="5.0"/>
<rect x="203.5" y="1212.0" width="1821.7" height="1034.4" fill="none" stroke="#000" stroke-width="5.0"/>
<path d="M176.3,1052.0H203.6 M176.3,818.4H203.6 M176.3,585.1H203.6 M176.3,351.2H203.6 M176.3,117.5H203.6 M257.2,1066.3V1093.5 M694.6,1066.3V1093.5 M1132.0,1066.3V1093.5 M1569.4,1066.3V1093.5 M2006.8,1066.3V1093.5 M174.5,2210.2H203.5 M174.5,1948.7H203.5 M174.5,1687.4H203.5 M174.5,1425.6H203.5 M255.3,2246.4V2273.8 M692.9,2246.4V2273.8 M1130.5,2246.4V2273.8 M1568.1,2246.4V2273.8 M2005.7,2246.4V2273.8" stroke="#000" stroke-width="5.0" fill="none"/>
<line x1="873.7" y1="117.4" x2="1029.9" y2="117.4" stroke="#000000" stroke-width="5.0"/>
<text x="0" y="0" text-anchor="start" transform="translate(1041.70 137.50) scale(1 1.080)">Controls</text>
<line x1="873.7" y1="230.2" x2="1029.9" y2="230.2" stroke="#0000FF" stroke-width="5.0"/>
<text x="0" y="0" text-anchor="start" transform="translate(1041.70 250.30) scale(1 1.080)">TMP / SMX 50% MIC</text>
<line x1="873.7" y1="344.4" x2="1029.9" y2="344.4" stroke="#FF0000" stroke-width="5.0"/>
<text x="0" y="0" text-anchor="start" transform="translate(1041.70 364.50) scale(1 1.080)">1% Phage solution</text>
<line x1="873.7" y1="458.0" x2="1029.9" y2="458.0" stroke="#00FF00" stroke-width="5.0"/>
<text x="0" y="0" text-anchor="start" transform="translate(1041.70 478.10) scale(1 1.080)">1% Phage + TMP / SMX 50% MIC</text>
<line x1="873.7" y1="571.5" x2="1029.9" y2="571.5" stroke="#BEBEBE" stroke-width="5.0"/>
<text x="0" y="0" text-anchor="start" transform="translate(1041.70 591.60) scale(1 1.080)">Sterile controls</text>
<text x="0" y="0" text-anchor="middle" transform="translate(162.00 1048.00) rotate(-90) scale(1 1.030)">0</text>
<text x="0" y="0" text-anchor="middle" transform="translate(162.00 809.80) rotate(-90) scale(1 1.030)">50</text>
<text x="0" y="0" text-anchor="middle" transform="translate(162.00 571.60) rotate(-90) scale(1 1.030)">100</text>
<text x="0" y="0" text-anchor="middle" transform="translate(162.00 338.00) rotate(-90) scale(1 1.030)">150</text>
<text x="0" y="0" text-anchor="middle" transform="translate(162.00 106.20) rotate(-90) scale(1 1.030)">200</text>
<text x="0" y="0" text-anchor="middle" transform="translate(162.00 2208.00) rotate(-90) scale(1 1.030)">0</text>
<text x="0" y="0" text-anchor="middle" transform="translate(162.00 1944.50) rotate(-90) scale(1 1.030)">2</text>
<text x="0" y="0" text-anchor="middle" transform="translate(162.00 1683.50) rotate(-90) scale(1 1.030)">4</text>
<text x="0" y="0" text-anchor="middle" transform="translate(162.00 1420.20) rotate(-90) scale(1 1.030)">6</text>
<text x="0" y="0" text-anchor="middle" transform="translate(256.00 2329.50) scale(1 1.080)">0</text>
<text x="0" y="0" text-anchor="middle" transform="translate(691.00 2329.50) scale(1 1.080)">20</text>
<text x="0" y="0" text-anchor="middle" transform="translate(1129.00 2329.50) scale(1 1.080)">40</text>
<text x="0" y="0" text-anchor="middle" transform="translate(1566.60 2329.50) scale(1 1.080)">60</text>
<text x="0" y="0" text-anchor="middle" transform="translate(2004.30 2329.50) scale(1 1.080)">80</text>
<text x="0" y="0" text-anchor="middle" transform="translate(1114.60 2397.30) scale(1 1.080)">Time in hours</text>
<text x="0" y="0" text-anchor="middle" transform="translate(87.80 550.70) rotate(-90) scale(1 1.030)">Heatflow in µW</text>
<text x="0" y="0" text-anchor="middle" transform="translate(86.20 1729.90) rotate(-90) scale(1 1.030)">Heat in Joules</text>
</svg></body></html>
